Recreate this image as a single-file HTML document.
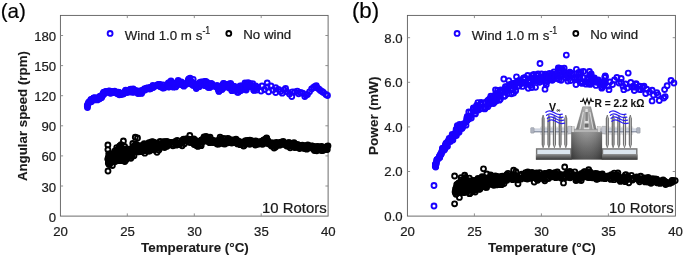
<!DOCTYPE html><html><head><meta charset="utf-8"><title>fig</title><style>html,body{margin:0;padding:0;background:#fff}svg{display:block}text{filter:grayscale(1);stroke:#222;stroke-width:.22px}text[font-weight=bold]{stroke-width:.1px}</style></head><body><svg width="685" height="257" viewBox="0 0 685 257" font-family="'Liberation Sans', Arial, sans-serif">
<rect width="685" height="257" fill="#fff"/>
<rect x="60.4" y="15.4" width="267.7" height="200.7" fill="none" stroke="#5c5c5c" stroke-width="0.9"/>
<path d="M127.3 216.1v-2.7M127.3 15.4v2.7M194.3 216.1v-2.7M194.3 15.4v2.7M261.2 216.1v-2.7M261.2 15.4v2.7M60.4 186.0h2.7M328.1 186.0h-2.7M60.4 155.9h2.7M328.1 155.9h-2.7M60.4 125.8h2.7M328.1 125.8h-2.7M60.4 95.7h2.7M328.1 95.7h-2.7M60.4 65.6h2.7M328.1 65.6h-2.7M60.4 35.5h2.7M328.1 35.5h-2.7" stroke="#858585" stroke-width="0.9" fill="none"/>
<g font-size="13.2" fill="#1a1a1a" text-anchor="middle">
<text x="60.6" y="235.5">20</text>
<text x="127.5" y="235.5">25</text>
<text x="194.5" y="235.5">30</text>
<text x="261.4" y="235.5">35</text>
<text x="328.3" y="235.5">40</text>
</g>
<g font-size="13.2" fill="#1a1a1a" text-anchor="end">
<text x="56.2" y="221.6">0</text>
<text x="56.2" y="191.5">30</text>
<text x="56.2" y="161.4">60</text>
<text x="56.2" y="131.3">90</text>
<text x="56.2" y="101.2">120</text>
<text x="56.2" y="71.1">150</text>
<text x="56.2" y="41.0">180</text>
</g>
<g fill="none" stroke="#1a00ff" stroke-width="1.9"><circle cx="87.3" cy="105.1" r="2.45"/><circle cx="87.3" cy="106.3" r="2.45"/><circle cx="87.5" cy="107.5" r="2.45"/><circle cx="88.1" cy="104.3" r="2.45"/><circle cx="88.3" cy="103.1" r="2.45"/><circle cx="88.8" cy="102.1" r="2.45"/><circle cx="89.6" cy="101.9" r="2.45"/><circle cx="89.8" cy="101.6" r="2.45"/><circle cx="90.7" cy="99.8" r="2.45"/><circle cx="91.1" cy="100.7" r="2.45"/><circle cx="91.2" cy="99.5" r="2.45"/><circle cx="91.2" cy="101.5" r="2.45"/><circle cx="91.3" cy="101.4" r="2.45"/><circle cx="91.5" cy="101.3" r="2.45"/><circle cx="92.3" cy="99.4" r="2.45"/><circle cx="92.5" cy="100.1" r="2.45"/><circle cx="92.9" cy="99.3" r="2.45"/><circle cx="92.9" cy="99.1" r="2.45"/><circle cx="93.2" cy="99.0" r="2.45"/><circle cx="93.6" cy="98.1" r="2.45"/><circle cx="93.8" cy="97.9" r="2.45"/><circle cx="94.0" cy="99.7" r="2.45"/><circle cx="94.3" cy="98.8" r="2.45"/><circle cx="94.6" cy="99.1" r="2.45"/><circle cx="95.2" cy="99.8" r="2.45"/><circle cx="95.2" cy="97.6" r="2.45"/><circle cx="95.3" cy="98.4" r="2.45"/><circle cx="95.8" cy="99.2" r="2.45"/><circle cx="96.8" cy="99.4" r="2.45"/><circle cx="97.1" cy="98.8" r="2.45"/><circle cx="97.3" cy="99.9" r="2.45"/><circle cx="97.5" cy="99.2" r="2.45"/><circle cx="97.9" cy="98.0" r="2.45"/><circle cx="99.0" cy="97.8" r="2.45"/><circle cx="99.1" cy="98.9" r="2.45"/><circle cx="99.7" cy="98.2" r="2.45"/><circle cx="99.7" cy="96.5" r="2.45"/><circle cx="100.5" cy="98.1" r="2.45"/><circle cx="100.7" cy="97.3" r="2.45"/><circle cx="100.8" cy="97.8" r="2.45"/><circle cx="100.8" cy="96.5" r="2.45"/><circle cx="100.9" cy="96.4" r="2.45"/><circle cx="101.0" cy="95.8" r="2.45"/><circle cx="101.7" cy="97.6" r="2.45"/><circle cx="102.0" cy="95.3" r="2.45"/><circle cx="102.4" cy="96.1" r="2.45"/><circle cx="103.0" cy="93.8" r="2.45"/><circle cx="103.2" cy="94.2" r="2.45"/><circle cx="103.4" cy="92.7" r="2.45"/><circle cx="103.6" cy="93.4" r="2.45"/><circle cx="103.8" cy="94.1" r="2.45"/><circle cx="103.9" cy="92.4" r="2.45"/><circle cx="104.0" cy="94.0" r="2.45"/><circle cx="104.2" cy="93.2" r="2.45"/><circle cx="104.3" cy="92.2" r="2.45"/><circle cx="104.9" cy="92.1" r="2.45"/><circle cx="105.2" cy="92.0" r="2.45"/><circle cx="105.3" cy="92.2" r="2.45"/><circle cx="105.7" cy="91.7" r="2.45"/><circle cx="107.0" cy="91.3" r="2.45"/><circle cx="107.9" cy="91.7" r="2.45"/><circle cx="108.4" cy="91.3" r="2.45"/><circle cx="108.5" cy="91.1" r="2.45"/><circle cx="109.0" cy="92.1" r="2.45"/><circle cx="109.2" cy="92.8" r="2.45"/><circle cx="109.4" cy="91.0" r="2.45"/><circle cx="109.8" cy="92.2" r="2.45"/><circle cx="109.8" cy="91.7" r="2.45"/><circle cx="110.5" cy="91.4" r="2.45"/><circle cx="110.6" cy="92.8" r="2.45"/><circle cx="110.6" cy="91.8" r="2.45"/><circle cx="110.7" cy="93.3" r="2.45"/><circle cx="111.2" cy="91.5" r="2.45"/><circle cx="111.4" cy="92.4" r="2.45"/><circle cx="111.7" cy="91.8" r="2.45"/><circle cx="112.5" cy="91.4" r="2.45"/><circle cx="113.1" cy="92.4" r="2.45"/><circle cx="113.4" cy="91.8" r="2.45"/><circle cx="113.6" cy="92.4" r="2.45"/><circle cx="113.8" cy="91.9" r="2.45"/><circle cx="114.7" cy="91.2" r="2.45"/><circle cx="116.0" cy="92.3" r="2.45"/><circle cx="116.9" cy="92.8" r="2.45"/><circle cx="117.0" cy="93.6" r="2.45"/><circle cx="117.6" cy="92.5" r="2.45"/><circle cx="117.8" cy="93.3" r="2.45"/><circle cx="118.3" cy="92.2" r="2.45"/><circle cx="118.3" cy="94.1" r="2.45"/><circle cx="118.6" cy="92.8" r="2.45"/><circle cx="118.7" cy="92.3" r="2.45"/><circle cx="118.8" cy="93.7" r="2.45"/><circle cx="119.4" cy="94.8" r="2.45"/><circle cx="119.6" cy="92.8" r="2.45"/><circle cx="119.7" cy="93.1" r="2.45"/><circle cx="120.7" cy="93.6" r="2.45"/><circle cx="121.3" cy="93.3" r="2.45"/><circle cx="121.3" cy="94.5" r="2.45"/><circle cx="122.1" cy="93.4" r="2.45"/><circle cx="122.9" cy="93.1" r="2.45"/><circle cx="123.2" cy="94.0" r="2.45"/><circle cx="123.7" cy="92.6" r="2.45"/><circle cx="123.9" cy="93.5" r="2.45"/><circle cx="125.1" cy="91.3" r="2.45"/><circle cx="125.7" cy="90.7" r="2.45"/><circle cx="125.7" cy="90.1" r="2.45"/><circle cx="127.2" cy="92.5" r="2.45"/><circle cx="127.9" cy="90.5" r="2.45"/><circle cx="127.9" cy="91.0" r="2.45"/><circle cx="128.6" cy="90.6" r="2.45"/><circle cx="130.2" cy="90.5" r="2.45"/><circle cx="130.2" cy="90.4" r="2.45"/><circle cx="130.3" cy="92.0" r="2.45"/><circle cx="130.3" cy="89.5" r="2.45"/><circle cx="130.8" cy="89.2" r="2.45"/><circle cx="131.7" cy="89.8" r="2.45"/><circle cx="131.7" cy="89.5" r="2.45"/><circle cx="131.8" cy="91.3" r="2.45"/><circle cx="132.0" cy="91.4" r="2.45"/><circle cx="132.1" cy="90.0" r="2.45"/><circle cx="132.6" cy="89.8" r="2.45"/><circle cx="132.8" cy="90.8" r="2.45"/><circle cx="132.9" cy="92.3" r="2.45"/><circle cx="133.2" cy="88.8" r="2.45"/><circle cx="133.3" cy="91.6" r="2.45"/><circle cx="133.6" cy="90.3" r="2.45"/><circle cx="133.7" cy="92.1" r="2.45"/><circle cx="133.9" cy="90.3" r="2.45"/><circle cx="135.3" cy="91.4" r="2.45"/><circle cx="135.8" cy="90.5" r="2.45"/><circle cx="137.3" cy="91.4" r="2.45"/><circle cx="137.9" cy="93.6" r="2.45"/><circle cx="139.4" cy="93.3" r="2.45"/><circle cx="139.5" cy="92.2" r="2.45"/><circle cx="139.9" cy="91.7" r="2.45"/><circle cx="139.9" cy="90.8" r="2.45"/><circle cx="140.0" cy="92.1" r="2.45"/><circle cx="140.5" cy="92.3" r="2.45"/><circle cx="140.5" cy="92.2" r="2.45"/><circle cx="140.6" cy="92.2" r="2.45"/><circle cx="140.6" cy="91.3" r="2.45"/><circle cx="141.0" cy="92.0" r="2.45"/><circle cx="141.0" cy="92.0" r="2.45"/><circle cx="141.5" cy="92.9" r="2.45"/><circle cx="141.5" cy="93.4" r="2.45"/><circle cx="141.6" cy="91.6" r="2.45"/><circle cx="141.8" cy="91.0" r="2.45"/><circle cx="142.5" cy="91.1" r="2.45"/><circle cx="142.6" cy="90.5" r="2.45"/><circle cx="143.3" cy="89.9" r="2.45"/><circle cx="144.0" cy="90.0" r="2.45"/><circle cx="144.7" cy="88.7" r="2.45"/><circle cx="145.0" cy="90.0" r="2.45"/><circle cx="145.0" cy="89.4" r="2.45"/><circle cx="145.3" cy="89.5" r="2.45"/><circle cx="146.7" cy="88.7" r="2.45"/><circle cx="146.8" cy="88.2" r="2.45"/><circle cx="147.3" cy="88.0" r="2.45"/><circle cx="148.6" cy="88.6" r="2.45"/><circle cx="149.6" cy="88.3" r="2.45"/><circle cx="149.7" cy="89.0" r="2.45"/><circle cx="149.9" cy="88.7" r="2.45"/><circle cx="150.2" cy="87.5" r="2.45"/><circle cx="150.5" cy="88.7" r="2.45"/><circle cx="150.5" cy="87.4" r="2.45"/><circle cx="152.4" cy="87.2" r="2.45"/><circle cx="152.4" cy="87.5" r="2.45"/><circle cx="152.9" cy="85.4" r="2.45"/><circle cx="153.2" cy="87.4" r="2.45"/><circle cx="154.8" cy="86.3" r="2.45"/><circle cx="157.3" cy="85.0" r="2.45"/><circle cx="158.2" cy="84.8" r="2.45"/><circle cx="158.3" cy="84.9" r="2.45"/><circle cx="158.8" cy="84.3" r="2.45"/><circle cx="159.1" cy="85.3" r="2.45"/><circle cx="159.3" cy="85.0" r="2.45"/><circle cx="159.3" cy="85.9" r="2.45"/><circle cx="159.9" cy="84.5" r="2.45"/><circle cx="160.5" cy="86.7" r="2.45"/><circle cx="161.2" cy="87.0" r="2.45"/><circle cx="161.6" cy="86.7" r="2.45"/><circle cx="162.0" cy="86.5" r="2.45"/><circle cx="162.9" cy="88.0" r="2.45"/><circle cx="163.1" cy="84.9" r="2.45"/><circle cx="163.7" cy="87.9" r="2.45"/><circle cx="164.0" cy="87.5" r="2.45"/><circle cx="165.3" cy="87.1" r="2.45"/><circle cx="166.4" cy="86.7" r="2.45"/><circle cx="167.5" cy="84.5" r="2.45"/><circle cx="167.7" cy="85.1" r="2.45"/><circle cx="167.7" cy="86.5" r="2.45"/><circle cx="168.2" cy="86.0" r="2.45"/><circle cx="168.3" cy="85.6" r="2.45"/><circle cx="168.4" cy="82.8" r="2.45"/><circle cx="168.6" cy="86.1" r="2.45"/><circle cx="168.8" cy="87.1" r="2.45"/><circle cx="169.0" cy="86.8" r="2.45"/><circle cx="169.1" cy="85.5" r="2.45"/><circle cx="169.9" cy="82.5" r="2.45"/><circle cx="170.0" cy="86.7" r="2.45"/><circle cx="170.9" cy="84.9" r="2.45"/><circle cx="171.0" cy="80.9" r="2.45"/><circle cx="171.1" cy="85.8" r="2.45"/><circle cx="171.5" cy="82.7" r="2.45"/><circle cx="173.3" cy="82.8" r="2.45"/><circle cx="173.4" cy="83.9" r="2.45"/><circle cx="173.4" cy="87.2" r="2.45"/><circle cx="174.5" cy="83.9" r="2.45"/><circle cx="174.6" cy="85.0" r="2.45"/><circle cx="175.6" cy="86.9" r="2.45"/><circle cx="175.8" cy="86.5" r="2.45"/><circle cx="176.1" cy="83.5" r="2.45"/><circle cx="176.8" cy="82.8" r="2.45"/><circle cx="178.2" cy="80.5" r="2.45"/><circle cx="178.2" cy="81.5" r="2.45"/><circle cx="178.5" cy="83.4" r="2.45"/><circle cx="179.7" cy="83.4" r="2.45"/><circle cx="179.9" cy="82.9" r="2.45"/><circle cx="180.1" cy="84.5" r="2.45"/><circle cx="181.3" cy="82.0" r="2.45"/><circle cx="181.6" cy="83.4" r="2.45"/><circle cx="182.4" cy="85.1" r="2.45"/><circle cx="183.2" cy="85.2" r="2.45"/><circle cx="183.9" cy="86.2" r="2.45"/><circle cx="185.8" cy="84.5" r="2.45"/><circle cx="186.7" cy="82.8" r="2.45"/><circle cx="187.2" cy="83.6" r="2.45"/><circle cx="188.1" cy="80.7" r="2.45"/><circle cx="188.5" cy="79.4" r="2.45"/><circle cx="188.6" cy="83.2" r="2.45"/><circle cx="188.9" cy="81.9" r="2.45"/><circle cx="189.0" cy="82.5" r="2.45"/><circle cx="189.0" cy="79.0" r="2.45"/><circle cx="189.3" cy="81.3" r="2.45"/><circle cx="189.6" cy="80.9" r="2.45"/><circle cx="189.7" cy="80.4" r="2.45"/><circle cx="190.1" cy="78.1" r="2.45"/><circle cx="191.4" cy="82.0" r="2.45"/><circle cx="191.5" cy="84.2" r="2.45"/><circle cx="191.8" cy="83.5" r="2.45"/><circle cx="191.9" cy="82.0" r="2.45"/><circle cx="192.3" cy="83.3" r="2.45"/><circle cx="193.1" cy="85.4" r="2.45"/><circle cx="193.2" cy="79.3" r="2.45"/><circle cx="193.8" cy="84.4" r="2.45"/><circle cx="195.4" cy="86.5" r="2.45"/><circle cx="195.9" cy="86.8" r="2.45"/><circle cx="196.3" cy="88.5" r="2.45"/><circle cx="196.8" cy="87.3" r="2.45"/><circle cx="196.9" cy="85.9" r="2.45"/><circle cx="197.0" cy="85.8" r="2.45"/><circle cx="197.1" cy="86.6" r="2.45"/><circle cx="197.6" cy="83.9" r="2.45"/><circle cx="197.9" cy="84.6" r="2.45"/><circle cx="199.3" cy="84.9" r="2.45"/><circle cx="199.3" cy="86.7" r="2.45"/><circle cx="199.9" cy="82.5" r="2.45"/><circle cx="201.2" cy="81.8" r="2.45"/><circle cx="202.0" cy="82.1" r="2.45"/><circle cx="202.2" cy="84.1" r="2.45"/><circle cx="203.6" cy="82.2" r="2.45"/><circle cx="204.5" cy="85.6" r="2.45"/><circle cx="204.7" cy="81.5" r="2.45"/><circle cx="204.8" cy="82.9" r="2.45"/><circle cx="204.8" cy="82.9" r="2.45"/><circle cx="205.0" cy="84.7" r="2.45"/><circle cx="205.3" cy="85.5" r="2.45"/><circle cx="205.8" cy="81.5" r="2.45"/><circle cx="206.3" cy="82.9" r="2.45"/><circle cx="206.6" cy="85.4" r="2.45"/><circle cx="206.7" cy="83.7" r="2.45"/><circle cx="207.1" cy="82.4" r="2.45"/><circle cx="208.0" cy="87.3" r="2.45"/><circle cx="208.9" cy="86.4" r="2.45"/><circle cx="209.0" cy="86.4" r="2.45"/><circle cx="209.1" cy="84.8" r="2.45"/><circle cx="209.2" cy="87.4" r="2.45"/><circle cx="209.5" cy="85.1" r="2.45"/><circle cx="209.7" cy="87.4" r="2.45"/><circle cx="210.8" cy="83.7" r="2.45"/><circle cx="211.4" cy="83.7" r="2.45"/><circle cx="211.7" cy="85.5" r="2.45"/><circle cx="211.9" cy="83.9" r="2.45"/><circle cx="212.8" cy="86.3" r="2.45"/><circle cx="216.7" cy="87.2" r="2.45"/><circle cx="217.0" cy="85.3" r="2.45"/><circle cx="217.6" cy="87.3" r="2.45"/><circle cx="218.0" cy="86.7" r="2.45"/><circle cx="218.2" cy="89.0" r="2.45"/><circle cx="218.2" cy="86.3" r="2.45"/><circle cx="218.3" cy="86.6" r="2.45"/><circle cx="218.3" cy="89.5" r="2.45"/><circle cx="218.9" cy="91.4" r="2.45"/><circle cx="219.1" cy="91.0" r="2.45"/><circle cx="219.5" cy="87.6" r="2.45"/><circle cx="221.3" cy="87.5" r="2.45"/><circle cx="222.1" cy="89.5" r="2.45"/><circle cx="222.4" cy="86.5" r="2.45"/><circle cx="222.6" cy="84.9" r="2.45"/><circle cx="222.8" cy="86.8" r="2.45"/><circle cx="222.8" cy="87.3" r="2.45"/><circle cx="223.4" cy="84.8" r="2.45"/><circle cx="223.5" cy="83.4" r="2.45"/><circle cx="223.7" cy="83.7" r="2.45"/><circle cx="223.9" cy="87.3" r="2.45"/><circle cx="224.3" cy="84.7" r="2.45"/><circle cx="224.4" cy="85.8" r="2.45"/><circle cx="224.6" cy="86.4" r="2.45"/><circle cx="224.8" cy="87.1" r="2.45"/><circle cx="225.1" cy="85.3" r="2.45"/><circle cx="226.2" cy="86.8" r="2.45"/><circle cx="226.3" cy="84.3" r="2.45"/><circle cx="228.3" cy="85.4" r="2.45"/><circle cx="228.6" cy="84.2" r="2.45"/><circle cx="229.2" cy="88.1" r="2.45"/><circle cx="229.2" cy="86.0" r="2.45"/><circle cx="229.5" cy="84.8" r="2.45"/><circle cx="229.8" cy="85.5" r="2.45"/><circle cx="229.9" cy="85.7" r="2.45"/><circle cx="230.1" cy="87.3" r="2.45"/><circle cx="230.5" cy="83.3" r="2.45"/><circle cx="231.1" cy="84.3" r="2.45"/><circle cx="231.3" cy="85.5" r="2.45"/><circle cx="231.8" cy="90.7" r="2.45"/><circle cx="231.8" cy="88.0" r="2.45"/><circle cx="233.0" cy="86.4" r="2.45"/><circle cx="233.2" cy="87.9" r="2.45"/><circle cx="233.3" cy="90.3" r="2.45"/><circle cx="234.0" cy="86.5" r="2.45"/><circle cx="234.0" cy="86.3" r="2.45"/><circle cx="234.3" cy="89.3" r="2.45"/><circle cx="235.4" cy="88.6" r="2.45"/><circle cx="235.8" cy="89.2" r="2.45"/><circle cx="236.0" cy="87.2" r="2.45"/><circle cx="237.4" cy="92.3" r="2.45"/><circle cx="238.3" cy="92.3" r="2.45"/><circle cx="238.7" cy="90.3" r="2.45"/><circle cx="239.3" cy="90.6" r="2.45"/><circle cx="240.1" cy="85.8" r="2.45"/><circle cx="240.2" cy="90.5" r="2.45"/><circle cx="240.6" cy="88.9" r="2.45"/><circle cx="240.8" cy="90.0" r="2.45"/><circle cx="240.9" cy="90.4" r="2.45"/><circle cx="241.5" cy="88.3" r="2.45"/><circle cx="241.7" cy="85.8" r="2.45"/><circle cx="241.7" cy="89.5" r="2.45"/><circle cx="242.4" cy="87.1" r="2.45"/><circle cx="243.0" cy="87.5" r="2.45"/><circle cx="243.5" cy="86.7" r="2.45"/><circle cx="243.5" cy="87.1" r="2.45"/><circle cx="245.0" cy="82.8" r="2.45"/><circle cx="245.4" cy="89.0" r="2.45"/><circle cx="246.0" cy="87.0" r="2.45"/><circle cx="246.1" cy="88.5" r="2.45"/><circle cx="246.2" cy="90.0" r="2.45"/><circle cx="246.3" cy="86.5" r="2.45"/><circle cx="246.3" cy="83.3" r="2.45"/><circle cx="246.4" cy="84.9" r="2.45"/><circle cx="246.9" cy="84.2" r="2.45"/><circle cx="247.0" cy="85.5" r="2.45"/><circle cx="247.3" cy="86.4" r="2.45"/><circle cx="248.1" cy="82.6" r="2.45"/><circle cx="248.9" cy="86.8" r="2.45"/><circle cx="249.6" cy="83.5" r="2.45"/><circle cx="249.7" cy="86.7" r="2.45"/><circle cx="250.1" cy="86.0" r="2.45"/><circle cx="250.5" cy="85.7" r="2.45"/><circle cx="251.0" cy="86.2" r="2.45"/><circle cx="251.4" cy="85.4" r="2.45"/><circle cx="251.6" cy="85.3" r="2.45"/><circle cx="252.7" cy="83.6" r="2.45"/><circle cx="252.9" cy="86.6" r="2.45"/><circle cx="253.7" cy="90.1" r="2.45"/><circle cx="254.1" cy="90.4" r="2.45"/><circle cx="254.4" cy="89.3" r="2.45"/><circle cx="255.5" cy="88.5" r="2.45"/><circle cx="255.7" cy="86.0" r="2.45"/><circle cx="256.7" cy="90.1" r="2.45"/><circle cx="257.5" cy="87.6" r="2.45"/><circle cx="257.8" cy="87.6" r="2.45"/><circle cx="258.0" cy="87.3" r="2.45"/><circle cx="262.0" cy="86.0" r="2.45"/><circle cx="264.5" cy="89.5" r="2.45"/><circle cx="267.2" cy="82.9" r="2.45"/><circle cx="267.2" cy="87.0" r="2.45"/><circle cx="261.1" cy="91.1" r="2.45"/><circle cx="268.6" cy="91.8" r="2.45"/><circle cx="271.0" cy="86.0" r="2.45"/><circle cx="273.0" cy="90.0" r="2.45"/><circle cx="275.7" cy="87.7" r="2.45"/><circle cx="275.7" cy="92.5" r="2.45"/><circle cx="278.5" cy="89.5" r="2.45"/><circle cx="280.5" cy="91.5" r="2.45"/><circle cx="282.2" cy="93.2" r="2.45"/><circle cx="284.0" cy="90.0" r="2.45"/><circle cx="285.6" cy="88.4" r="2.45"/><circle cx="287.0" cy="91.8" r="2.45"/><circle cx="289.5" cy="94.0" r="2.45"/><circle cx="291.8" cy="96.6" r="2.45"/><circle cx="292.5" cy="91.8" r="2.45"/><circle cx="295.0" cy="92.0" r="2.45"/><circle cx="297.3" cy="91.1" r="2.45"/><circle cx="298.6" cy="93.8" r="2.45"/><circle cx="300.5" cy="92.5" r="2.45"/><circle cx="302.7" cy="93.2" r="2.45"/><circle cx="304.8" cy="96.6" r="2.45"/><circle cx="306.0" cy="95.0" r="2.45"/><circle cx="307.5" cy="94.5" r="2.45"/><circle cx="309.5" cy="91.8" r="2.45"/><circle cx="311.6" cy="89.0" r="2.45"/><circle cx="313.5" cy="87.5" r="2.45"/><circle cx="315.0" cy="86.5" r="2.45"/><circle cx="316.3" cy="85.7" r="2.45"/><circle cx="317.0" cy="87.7" r="2.45"/><circle cx="318.8" cy="89.0" r="2.45"/><circle cx="320.4" cy="90.4" r="2.45"/><circle cx="322.0" cy="91.5" r="2.45"/><circle cx="323.4" cy="92.5" r="2.45"/><circle cx="325.9" cy="94.5" r="2.45"/><circle cx="327.5" cy="95.5" r="2.45"/></g>
<g fill="none" stroke="#000" stroke-width="1.9"><circle cx="139.6" cy="147.7" r="2.45"/><circle cx="127.8" cy="156.4" r="2.45"/><circle cx="112.5" cy="159.3" r="2.45"/><circle cx="153.3" cy="146.5" r="2.45"/><circle cx="138.8" cy="149.8" r="2.45"/><circle cx="112.4" cy="157.0" r="2.45"/><circle cx="149.7" cy="145.4" r="2.45"/><circle cx="111.4" cy="155.0" r="2.45"/><circle cx="111.0" cy="158.4" r="2.45"/><circle cx="121.1" cy="144.7" r="2.45"/><circle cx="151.4" cy="145.4" r="2.45"/><circle cx="108.8" cy="158.1" r="2.45"/><circle cx="150.4" cy="146.2" r="2.45"/><circle cx="134.5" cy="149.9" r="2.45"/><circle cx="110.0" cy="156.5" r="2.45"/><circle cx="132.4" cy="148.7" r="2.45"/><circle cx="127.0" cy="148.9" r="2.45"/><circle cx="132.2" cy="152.8" r="2.45"/><circle cx="140.9" cy="151.5" r="2.45"/><circle cx="137.9" cy="150.4" r="2.45"/><circle cx="154.6" cy="145.7" r="2.45"/><circle cx="113.5" cy="161.9" r="2.45"/><circle cx="144.8" cy="144.9" r="2.45"/><circle cx="124.8" cy="161.5" r="2.45"/><circle cx="143.3" cy="145.6" r="2.45"/><circle cx="149.0" cy="142.6" r="2.45"/><circle cx="154.3" cy="150.1" r="2.45"/><circle cx="118.1" cy="159.1" r="2.45"/><circle cx="126.8" cy="150.5" r="2.45"/><circle cx="151.7" cy="146.0" r="2.45"/><circle cx="151.9" cy="145.3" r="2.45"/><circle cx="123.0" cy="153.2" r="2.45"/><circle cx="151.6" cy="142.9" r="2.45"/><circle cx="124.5" cy="149.2" r="2.45"/><circle cx="123.1" cy="154.5" r="2.45"/><circle cx="141.9" cy="148.3" r="2.45"/><circle cx="127.6" cy="157.6" r="2.45"/><circle cx="126.5" cy="154.0" r="2.45"/><circle cx="123.6" cy="159.9" r="2.45"/><circle cx="125.8" cy="151.2" r="2.45"/><circle cx="112.8" cy="158.9" r="2.45"/><circle cx="109.8" cy="155.5" r="2.45"/><circle cx="141.8" cy="145.3" r="2.45"/><circle cx="132.2" cy="156.5" r="2.45"/><circle cx="137.6" cy="146.7" r="2.45"/><circle cx="144.3" cy="148.9" r="2.45"/><circle cx="116.6" cy="153.8" r="2.45"/><circle cx="116.7" cy="147.6" r="2.45"/><circle cx="118.7" cy="152.1" r="2.45"/><circle cx="119.8" cy="151.4" r="2.45"/><circle cx="142.1" cy="146.8" r="2.45"/><circle cx="123.0" cy="157.2" r="2.45"/><circle cx="120.7" cy="155.4" r="2.45"/><circle cx="135.8" cy="147.4" r="2.45"/><circle cx="114.7" cy="151.1" r="2.45"/><circle cx="111.5" cy="160.0" r="2.45"/><circle cx="138.9" cy="148.3" r="2.45"/><circle cx="141.9" cy="151.4" r="2.45"/><circle cx="119.5" cy="160.7" r="2.45"/><circle cx="135.8" cy="150.4" r="2.45"/><circle cx="108.9" cy="159.9" r="2.45"/><circle cx="124.5" cy="152.4" r="2.45"/><circle cx="132.9" cy="146.7" r="2.45"/><circle cx="117.6" cy="150.2" r="2.45"/><circle cx="121.8" cy="149.5" r="2.45"/><circle cx="134.4" cy="147.5" r="2.45"/><circle cx="133.4" cy="148.7" r="2.45"/><circle cx="113.4" cy="159.8" r="2.45"/><circle cx="139.3" cy="147.6" r="2.45"/><circle cx="110.5" cy="159.2" r="2.45"/><circle cx="153.1" cy="142.1" r="2.45"/><circle cx="115.4" cy="160.9" r="2.45"/><circle cx="117.6" cy="155.4" r="2.45"/><circle cx="115.3" cy="161.4" r="2.45"/><circle cx="154.3" cy="147.7" r="2.45"/><circle cx="119.0" cy="158.6" r="2.45"/><circle cx="134.2" cy="148.6" r="2.45"/><circle cx="154.3" cy="147.5" r="2.45"/><circle cx="152.1" cy="149.6" r="2.45"/><circle cx="109.2" cy="157.4" r="2.45"/><circle cx="130.1" cy="156.3" r="2.45"/><circle cx="134.0" cy="155.7" r="2.45"/><circle cx="139.1" cy="149.4" r="2.45"/><circle cx="121.3" cy="155.7" r="2.45"/><circle cx="120.9" cy="160.7" r="2.45"/><circle cx="108.0" cy="159.1" r="2.45"/><circle cx="108.9" cy="160.8" r="2.45"/><circle cx="131.5" cy="149.4" r="2.45"/><circle cx="110.3" cy="158.1" r="2.45"/><circle cx="115.4" cy="153.2" r="2.45"/><circle cx="121.2" cy="152.6" r="2.45"/><circle cx="110.1" cy="160.1" r="2.45"/><circle cx="108.8" cy="160.9" r="2.45"/><circle cx="150.8" cy="143.0" r="2.45"/><circle cx="125.9" cy="160.1" r="2.45"/><circle cx="115.5" cy="159.2" r="2.45"/><circle cx="139.4" cy="150.0" r="2.45"/><circle cx="108.1" cy="159.6" r="2.45"/><circle cx="117.2" cy="153.3" r="2.45"/><circle cx="152.7" cy="146.8" r="2.45"/><circle cx="149.3" cy="147.2" r="2.45"/><circle cx="135.8" cy="145.0" r="2.45"/><circle cx="111.0" cy="161.4" r="2.45"/><circle cx="120.5" cy="160.5" r="2.45"/><circle cx="108.7" cy="153.8" r="2.45"/><circle cx="116.1" cy="158.2" r="2.45"/><circle cx="108.6" cy="161.3" r="2.45"/><circle cx="112.2" cy="158.2" r="2.45"/><circle cx="135.6" cy="151.6" r="2.45"/><circle cx="111.3" cy="154.2" r="2.45"/><circle cx="113.4" cy="158.0" r="2.45"/><circle cx="149.6" cy="151.1" r="2.45"/><circle cx="121.3" cy="152.4" r="2.45"/><circle cx="121.1" cy="150.5" r="2.45"/><circle cx="110.7" cy="159.9" r="2.45"/><circle cx="143.9" cy="146.9" r="2.45"/><circle cx="137.8" cy="151.9" r="2.45"/><circle cx="131.3" cy="149.5" r="2.45"/><circle cx="134.8" cy="150.7" r="2.45"/><circle cx="111.2" cy="153.9" r="2.45"/><circle cx="117.9" cy="156.0" r="2.45"/><circle cx="133.1" cy="149.7" r="2.45"/><circle cx="152.2" cy="141.8" r="2.45"/><circle cx="145.1" cy="147.9" r="2.45"/><circle cx="136.0" cy="144.7" r="2.45"/><circle cx="129.9" cy="151.1" r="2.45"/><circle cx="108.3" cy="163.1" r="2.45"/><circle cx="148.9" cy="144.4" r="2.45"/><circle cx="110.0" cy="157.3" r="2.45"/><circle cx="112.4" cy="165.6" r="2.45"/><circle cx="138.6" cy="148.8" r="2.45"/><circle cx="144.8" cy="153.2" r="2.45"/><circle cx="143.5" cy="148.4" r="2.45"/><circle cx="126.7" cy="150.9" r="2.45"/><circle cx="114.3" cy="156.4" r="2.45"/><circle cx="108.9" cy="164.3" r="2.45"/><circle cx="146.9" cy="149.4" r="2.45"/><circle cx="153.6" cy="146.0" r="2.45"/><circle cx="117.2" cy="153.9" r="2.45"/><circle cx="147.6" cy="147.1" r="2.45"/><circle cx="124.4" cy="151.0" r="2.45"/><circle cx="120.2" cy="160.2" r="2.45"/><circle cx="129.3" cy="153.7" r="2.45"/><circle cx="108.1" cy="158.2" r="2.45"/><circle cx="126.3" cy="152.1" r="2.45"/><circle cx="115.3" cy="158.0" r="2.45"/><circle cx="139.6" cy="149.7" r="2.45"/><circle cx="129.2" cy="153.3" r="2.45"/><circle cx="147.8" cy="145.9" r="2.45"/><circle cx="149.2" cy="146.5" r="2.45"/><circle cx="120.4" cy="147.1" r="2.45"/><circle cx="118.8" cy="148.5" r="2.45"/><circle cx="151.5" cy="147.2" r="2.45"/><circle cx="129.2" cy="152.3" r="2.45"/><circle cx="111.1" cy="161.1" r="2.45"/><circle cx="109.3" cy="162.6" r="2.45"/><circle cx="154.2" cy="148.3" r="2.45"/><circle cx="132.9" cy="150.2" r="2.45"/><circle cx="109.6" cy="164.4" r="2.45"/><circle cx="129.6" cy="155.4" r="2.45"/><circle cx="129.2" cy="152.6" r="2.45"/><circle cx="125.9" cy="155.9" r="2.45"/><circle cx="152.1" cy="146.5" r="2.45"/><circle cx="152.0" cy="144.0" r="2.45"/><circle cx="112.2" cy="159.0" r="2.45"/><circle cx="113.3" cy="157.2" r="2.45"/><circle cx="124.6" cy="146.4" r="2.45"/><circle cx="145.9" cy="147.5" r="2.45"/><circle cx="135.1" cy="147.7" r="2.45"/><circle cx="140.5" cy="147.2" r="2.45"/><circle cx="132.8" cy="143.4" r="2.45"/><circle cx="115.7" cy="152.9" r="2.45"/><circle cx="145.1" cy="147.8" r="2.45"/><circle cx="108.3" cy="160.4" r="2.45"/><circle cx="138.9" cy="146.1" r="2.45"/><circle cx="115.0" cy="159.4" r="2.45"/><circle cx="127.6" cy="150.2" r="2.45"/><circle cx="153.4" cy="145.6" r="2.45"/><circle cx="130.9" cy="158.3" r="2.45"/><circle cx="109.7" cy="158.3" r="2.45"/><circle cx="125.6" cy="151.7" r="2.45"/><circle cx="137.0" cy="150.9" r="2.45"/><circle cx="109.6" cy="159.0" r="2.45"/><circle cx="117.5" cy="152.4" r="2.45"/><circle cx="108.4" cy="160.6" r="2.45"/><circle cx="131.0" cy="155.0" r="2.45"/><circle cx="123.4" cy="140.9" r="2.45"/><circle cx="129.2" cy="151.3" r="2.45"/><circle cx="119.5" cy="147.0" r="2.45"/><circle cx="136.8" cy="144.7" r="2.45"/><circle cx="114.1" cy="154.0" r="2.45"/><circle cx="149.8" cy="144.5" r="2.45"/><circle cx="152.6" cy="146.3" r="2.45"/><circle cx="128.7" cy="151.2" r="2.45"/><circle cx="127.4" cy="154.3" r="2.45"/><circle cx="147.3" cy="148.2" r="2.45"/><circle cx="119.2" cy="150.6" r="2.45"/><circle cx="144.3" cy="148.1" r="2.45"/><circle cx="119.1" cy="159.3" r="2.45"/><circle cx="140.0" cy="149.0" r="2.45"/><circle cx="121.2" cy="149.2" r="2.45"/><circle cx="134.1" cy="149.0" r="2.45"/><circle cx="150.8" cy="144.0" r="2.45"/><circle cx="109.6" cy="160.5" r="2.45"/><circle cx="144.5" cy="150.8" r="2.45"/><circle cx="131.1" cy="150.0" r="2.45"/><circle cx="123.3" cy="151.7" r="2.45"/><circle cx="121.9" cy="159.6" r="2.45"/><circle cx="110.1" cy="158.6" r="2.45"/><circle cx="117.8" cy="154.2" r="2.45"/><circle cx="135.1" cy="146.5" r="2.45"/><circle cx="111.1" cy="157.4" r="2.45"/><circle cx="137.4" cy="147.6" r="2.45"/><circle cx="152.7" cy="149.7" r="2.45"/><circle cx="153.7" cy="144.8" r="2.45"/><circle cx="148.8" cy="145.6" r="2.45"/><circle cx="144.5" cy="146.7" r="2.45"/><circle cx="114.4" cy="156.0" r="2.45"/><circle cx="153.2" cy="148.0" r="2.45"/><circle cx="115.4" cy="156.0" r="2.45"/><circle cx="147.8" cy="151.2" r="2.45"/><circle cx="148.2" cy="147.4" r="2.45"/><circle cx="135.0" cy="151.8" r="2.45"/><circle cx="130.1" cy="154.4" r="2.45"/><circle cx="115.3" cy="158.9" r="2.45"/><circle cx="130.0" cy="149.2" r="2.45"/><circle cx="119.2" cy="152.8" r="2.45"/><circle cx="112.2" cy="158.6" r="2.45"/><circle cx="112.3" cy="158.0" r="2.45"/><circle cx="144.2" cy="143.7" r="2.45"/><circle cx="150.6" cy="148.6" r="2.45"/><circle cx="112.9" cy="157.0" r="2.45"/><circle cx="108.2" cy="159.4" r="2.45"/><circle cx="118.0" cy="152.5" r="2.45"/><circle cx="112.6" cy="157.8" r="2.45"/><circle cx="114.8" cy="157.3" r="2.45"/><circle cx="133.1" cy="146.9" r="2.45"/><circle cx="125.3" cy="150.2" r="2.45"/><circle cx="125.6" cy="154.3" r="2.45"/><circle cx="115.5" cy="155.7" r="2.45"/><circle cx="137.2" cy="147.8" r="2.45"/><circle cx="119.2" cy="151.2" r="2.45"/><circle cx="124.2" cy="150.2" r="2.45"/><circle cx="127.3" cy="153.7" r="2.45"/><circle cx="149.7" cy="150.0" r="2.45"/><circle cx="117.3" cy="149.8" r="2.45"/><circle cx="140.0" cy="151.4" r="2.45"/><circle cx="120.1" cy="156.2" r="2.45"/><circle cx="149.1" cy="145.0" r="2.45"/><circle cx="124.0" cy="155.5" r="2.45"/><circle cx="129.3" cy="149.5" r="2.45"/><circle cx="148.2" cy="143.7" r="2.45"/><circle cx="137.6" cy="146.0" r="2.45"/><circle cx="111.0" cy="157.8" r="2.45"/><circle cx="112.7" cy="157.4" r="2.45"/><circle cx="154.3" cy="145.3" r="2.45"/><circle cx="108.7" cy="160.2" r="2.45"/><circle cx="119.7" cy="145.8" r="2.45"/><circle cx="152.6" cy="146.7" r="2.45"/><circle cx="108.3" cy="157.6" r="2.45"/><circle cx="113.7" cy="155.3" r="2.45"/><circle cx="115.8" cy="153.4" r="2.45"/><circle cx="110.7" cy="156.8" r="2.45"/><circle cx="127.7" cy="149.8" r="2.45"/><circle cx="133.6" cy="147.2" r="2.45"/><circle cx="120.5" cy="153.1" r="2.45"/><circle cx="111.6" cy="160.8" r="2.45"/><circle cx="144.7" cy="149.0" r="2.45"/><circle cx="144.4" cy="145.9" r="2.45"/><circle cx="132.1" cy="149.1" r="2.45"/><circle cx="112.7" cy="155.7" r="2.45"/><circle cx="131.1" cy="153.3" r="2.45"/><circle cx="135.4" cy="144.4" r="2.45"/><circle cx="125.6" cy="157.4" r="2.45"/><circle cx="147.5" cy="146.4" r="2.45"/><circle cx="123.8" cy="150.3" r="2.45"/><circle cx="129.6" cy="154.4" r="2.45"/><circle cx="111.8" cy="161.8" r="2.45"/><circle cx="132.1" cy="152.4" r="2.45"/><circle cx="142.4" cy="149.9" r="2.45"/><circle cx="140.8" cy="148.5" r="2.45"/><circle cx="141.8" cy="150.3" r="2.45"/><circle cx="142.4" cy="150.3" r="2.45"/><circle cx="143.1" cy="147.4" r="2.45"/><circle cx="143.9" cy="150.7" r="2.45"/><circle cx="144.0" cy="148.1" r="2.45"/><circle cx="144.9" cy="148.0" r="2.45"/><circle cx="146.3" cy="145.9" r="2.45"/><circle cx="148.7" cy="146.2" r="2.45"/><circle cx="149.4" cy="148.8" r="2.45"/><circle cx="150.0" cy="143.6" r="2.45"/><circle cx="150.1" cy="147.2" r="2.45"/><circle cx="150.1" cy="146.6" r="2.45"/><circle cx="150.7" cy="146.7" r="2.45"/><circle cx="151.4" cy="141.8" r="2.45"/><circle cx="151.4" cy="145.5" r="2.45"/><circle cx="151.8" cy="146.9" r="2.45"/><circle cx="151.9" cy="144.2" r="2.45"/><circle cx="152.2" cy="146.0" r="2.45"/><circle cx="153.1" cy="142.0" r="2.45"/><circle cx="154.5" cy="147.5" r="2.45"/><circle cx="154.5" cy="145.1" r="2.45"/><circle cx="154.8" cy="147.9" r="2.45"/><circle cx="156.2" cy="143.0" r="2.45"/><circle cx="156.4" cy="147.5" r="2.45"/><circle cx="156.4" cy="145.8" r="2.45"/><circle cx="156.6" cy="147.6" r="2.45"/><circle cx="156.8" cy="144.5" r="2.45"/><circle cx="157.0" cy="144.9" r="2.45"/><circle cx="157.0" cy="152.3" r="2.45"/><circle cx="157.0" cy="144.6" r="2.45"/><circle cx="157.2" cy="144.7" r="2.45"/><circle cx="157.6" cy="144.9" r="2.45"/><circle cx="157.9" cy="143.8" r="2.45"/><circle cx="158.0" cy="147.6" r="2.45"/><circle cx="158.9" cy="150.1" r="2.45"/><circle cx="159.3" cy="143.6" r="2.45"/><circle cx="160.1" cy="141.5" r="2.45"/><circle cx="160.4" cy="146.4" r="2.45"/><circle cx="160.6" cy="147.5" r="2.45"/><circle cx="162.8" cy="145.5" r="2.45"/><circle cx="163.0" cy="146.1" r="2.45"/><circle cx="163.0" cy="142.7" r="2.45"/><circle cx="163.7" cy="143.6" r="2.45"/><circle cx="163.8" cy="141.8" r="2.45"/><circle cx="164.1" cy="141.7" r="2.45"/><circle cx="164.4" cy="145.7" r="2.45"/><circle cx="164.5" cy="142.9" r="2.45"/><circle cx="164.6" cy="147.5" r="2.45"/><circle cx="164.7" cy="144.1" r="2.45"/><circle cx="165.8" cy="141.9" r="2.45"/><circle cx="166.4" cy="144.8" r="2.45"/><circle cx="166.7" cy="146.4" r="2.45"/><circle cx="166.7" cy="144.2" r="2.45"/><circle cx="167.0" cy="141.3" r="2.45"/><circle cx="168.3" cy="143.6" r="2.45"/><circle cx="168.5" cy="145.3" r="2.45"/><circle cx="169.8" cy="142.4" r="2.45"/><circle cx="170.9" cy="142.3" r="2.45"/><circle cx="172.9" cy="145.8" r="2.45"/><circle cx="173.6" cy="144.4" r="2.45"/><circle cx="173.7" cy="142.3" r="2.45"/><circle cx="175.5" cy="143.0" r="2.45"/><circle cx="175.5" cy="141.5" r="2.45"/><circle cx="175.8" cy="144.0" r="2.45"/><circle cx="176.1" cy="143.5" r="2.45"/><circle cx="176.2" cy="145.2" r="2.45"/><circle cx="177.0" cy="144.2" r="2.45"/><circle cx="177.2" cy="140.4" r="2.45"/><circle cx="177.6" cy="143.6" r="2.45"/><circle cx="177.7" cy="144.4" r="2.45"/><circle cx="178.4" cy="143.7" r="2.45"/><circle cx="179.4" cy="144.7" r="2.45"/><circle cx="181.5" cy="142.3" r="2.45"/><circle cx="181.9" cy="141.6" r="2.45"/><circle cx="182.2" cy="145.8" r="2.45"/><circle cx="182.9" cy="139.9" r="2.45"/><circle cx="183.6" cy="139.1" r="2.45"/><circle cx="184.5" cy="143.7" r="2.45"/><circle cx="184.7" cy="140.7" r="2.45"/><circle cx="185.1" cy="141.2" r="2.45"/><circle cx="186.1" cy="138.9" r="2.45"/><circle cx="187.0" cy="138.8" r="2.45"/><circle cx="188.7" cy="139.2" r="2.45"/><circle cx="188.9" cy="140.5" r="2.45"/><circle cx="189.7" cy="141.9" r="2.45"/><circle cx="189.8" cy="135.4" r="2.45"/><circle cx="190.2" cy="142.6" r="2.45"/><circle cx="190.5" cy="139.5" r="2.45"/><circle cx="192.3" cy="139.8" r="2.45"/><circle cx="193.4" cy="142.6" r="2.45"/><circle cx="193.6" cy="141.4" r="2.45"/><circle cx="193.9" cy="139.0" r="2.45"/><circle cx="194.1" cy="144.6" r="2.45"/><circle cx="194.7" cy="140.2" r="2.45"/><circle cx="194.9" cy="142.4" r="2.45"/><circle cx="195.0" cy="142.3" r="2.45"/><circle cx="195.5" cy="144.2" r="2.45"/><circle cx="195.6" cy="141.2" r="2.45"/><circle cx="195.7" cy="143.6" r="2.45"/><circle cx="195.8" cy="140.8" r="2.45"/><circle cx="196.4" cy="145.4" r="2.45"/><circle cx="196.4" cy="141.0" r="2.45"/><circle cx="196.5" cy="141.7" r="2.45"/><circle cx="197.3" cy="145.8" r="2.45"/><circle cx="197.5" cy="143.3" r="2.45"/><circle cx="197.8" cy="143.1" r="2.45"/><circle cx="197.9" cy="146.4" r="2.45"/><circle cx="198.3" cy="143.7" r="2.45"/><circle cx="200.0" cy="141.6" r="2.45"/><circle cx="200.4" cy="143.9" r="2.45"/><circle cx="200.7" cy="140.6" r="2.45"/><circle cx="200.9" cy="145.6" r="2.45"/><circle cx="201.1" cy="145.7" r="2.45"/><circle cx="201.6" cy="141.0" r="2.45"/><circle cx="201.8" cy="139.9" r="2.45"/><circle cx="202.0" cy="142.1" r="2.45"/><circle cx="202.0" cy="141.6" r="2.45"/><circle cx="202.3" cy="139.7" r="2.45"/><circle cx="203.5" cy="141.4" r="2.45"/><circle cx="204.0" cy="136.9" r="2.45"/><circle cx="204.1" cy="139.4" r="2.45"/><circle cx="205.1" cy="139.2" r="2.45"/><circle cx="205.4" cy="139.4" r="2.45"/><circle cx="205.8" cy="140.3" r="2.45"/><circle cx="206.1" cy="136.5" r="2.45"/><circle cx="206.9" cy="140.9" r="2.45"/><circle cx="207.2" cy="139.7" r="2.45"/><circle cx="207.9" cy="139.1" r="2.45"/><circle cx="208.0" cy="137.9" r="2.45"/><circle cx="208.5" cy="138.3" r="2.45"/><circle cx="208.5" cy="141.2" r="2.45"/><circle cx="208.7" cy="138.7" r="2.45"/><circle cx="208.9" cy="140.4" r="2.45"/><circle cx="209.0" cy="141.9" r="2.45"/><circle cx="209.2" cy="141.8" r="2.45"/><circle cx="209.7" cy="142.7" r="2.45"/><circle cx="209.8" cy="139.7" r="2.45"/><circle cx="210.1" cy="137.2" r="2.45"/><circle cx="210.4" cy="141.8" r="2.45"/><circle cx="211.8" cy="140.6" r="2.45"/><circle cx="212.7" cy="142.0" r="2.45"/><circle cx="212.7" cy="140.2" r="2.45"/><circle cx="212.8" cy="142.1" r="2.45"/><circle cx="213.0" cy="142.5" r="2.45"/><circle cx="213.3" cy="141.5" r="2.45"/><circle cx="214.2" cy="141.5" r="2.45"/><circle cx="214.3" cy="141.3" r="2.45"/><circle cx="214.8" cy="141.3" r="2.45"/><circle cx="215.5" cy="141.5" r="2.45"/><circle cx="216.2" cy="142.9" r="2.45"/><circle cx="217.0" cy="140.7" r="2.45"/><circle cx="217.1" cy="144.1" r="2.45"/><circle cx="217.2" cy="141.3" r="2.45"/><circle cx="217.4" cy="142.9" r="2.45"/><circle cx="217.5" cy="141.2" r="2.45"/><circle cx="218.1" cy="140.9" r="2.45"/><circle cx="218.5" cy="144.2" r="2.45"/><circle cx="219.7" cy="140.2" r="2.45"/><circle cx="220.1" cy="137.2" r="2.45"/><circle cx="220.9" cy="139.2" r="2.45"/><circle cx="221.8" cy="139.8" r="2.45"/><circle cx="223.2" cy="143.8" r="2.45"/><circle cx="223.2" cy="141.0" r="2.45"/><circle cx="223.4" cy="142.1" r="2.45"/><circle cx="223.8" cy="138.4" r="2.45"/><circle cx="223.8" cy="141.9" r="2.45"/><circle cx="224.5" cy="142.9" r="2.45"/><circle cx="224.9" cy="144.1" r="2.45"/><circle cx="226.8" cy="140.6" r="2.45"/><circle cx="226.9" cy="142.5" r="2.45"/><circle cx="226.9" cy="142.0" r="2.45"/><circle cx="227.3" cy="140.0" r="2.45"/><circle cx="227.4" cy="141.4" r="2.45"/><circle cx="227.7" cy="141.0" r="2.45"/><circle cx="227.7" cy="138.3" r="2.45"/><circle cx="227.8" cy="142.8" r="2.45"/><circle cx="228.2" cy="142.0" r="2.45"/><circle cx="228.5" cy="140.4" r="2.45"/><circle cx="228.9" cy="139.0" r="2.45"/><circle cx="230.2" cy="142.6" r="2.45"/><circle cx="230.6" cy="141.1" r="2.45"/><circle cx="231.7" cy="143.0" r="2.45"/><circle cx="232.2" cy="142.6" r="2.45"/><circle cx="232.8" cy="140.0" r="2.45"/><circle cx="232.9" cy="141.9" r="2.45"/><circle cx="233.2" cy="140.5" r="2.45"/><circle cx="233.4" cy="140.8" r="2.45"/><circle cx="233.8" cy="140.9" r="2.45"/><circle cx="234.1" cy="141.1" r="2.45"/><circle cx="234.2" cy="142.6" r="2.45"/><circle cx="234.4" cy="141.3" r="2.45"/><circle cx="235.2" cy="141.0" r="2.45"/><circle cx="235.5" cy="140.8" r="2.45"/><circle cx="235.9" cy="141.7" r="2.45"/><circle cx="236.0" cy="139.1" r="2.45"/><circle cx="236.1" cy="140.0" r="2.45"/><circle cx="236.1" cy="141.1" r="2.45"/><circle cx="236.4" cy="140.4" r="2.45"/><circle cx="236.7" cy="141.0" r="2.45"/><circle cx="236.9" cy="140.3" r="2.45"/><circle cx="237.5" cy="143.9" r="2.45"/><circle cx="237.6" cy="143.0" r="2.45"/><circle cx="238.5" cy="142.3" r="2.45"/><circle cx="238.6" cy="141.2" r="2.45"/><circle cx="240.1" cy="144.7" r="2.45"/><circle cx="240.6" cy="142.5" r="2.45"/><circle cx="241.2" cy="142.2" r="2.45"/><circle cx="242.4" cy="143.2" r="2.45"/><circle cx="243.2" cy="143.3" r="2.45"/><circle cx="243.6" cy="146.1" r="2.45"/><circle cx="243.6" cy="142.8" r="2.45"/><circle cx="243.8" cy="145.7" r="2.45"/><circle cx="244.7" cy="141.4" r="2.45"/><circle cx="244.9" cy="143.4" r="2.45"/><circle cx="245.6" cy="140.7" r="2.45"/><circle cx="246.2" cy="144.1" r="2.45"/><circle cx="247.5" cy="140.5" r="2.45"/><circle cx="248.7" cy="141.1" r="2.45"/><circle cx="249.4" cy="142.6" r="2.45"/><circle cx="249.8" cy="144.3" r="2.45"/><circle cx="249.9" cy="140.1" r="2.45"/><circle cx="250.7" cy="141.6" r="2.45"/><circle cx="251.5" cy="140.6" r="2.45"/><circle cx="251.7" cy="142.7" r="2.45"/><circle cx="252.8" cy="142.8" r="2.45"/><circle cx="252.8" cy="142.5" r="2.45"/><circle cx="253.6" cy="142.2" r="2.45"/><circle cx="254.1" cy="142.7" r="2.45"/><circle cx="254.6" cy="141.6" r="2.45"/><circle cx="254.9" cy="144.3" r="2.45"/><circle cx="255.3" cy="145.1" r="2.45"/><circle cx="255.7" cy="140.8" r="2.45"/><circle cx="255.8" cy="143.0" r="2.45"/><circle cx="256.3" cy="142.7" r="2.45"/><circle cx="256.4" cy="143.9" r="2.45"/><circle cx="256.7" cy="142.1" r="2.45"/><circle cx="256.9" cy="143.0" r="2.45"/><circle cx="257.4" cy="142.0" r="2.45"/><circle cx="257.6" cy="144.3" r="2.45"/><circle cx="258.4" cy="143.7" r="2.45"/><circle cx="259.7" cy="143.3" r="2.45"/><circle cx="260.2" cy="143.9" r="2.45"/><circle cx="260.6" cy="142.8" r="2.45"/><circle cx="260.7" cy="141.3" r="2.45"/><circle cx="261.5" cy="143.6" r="2.45"/><circle cx="262.0" cy="143.0" r="2.45"/><circle cx="262.0" cy="142.4" r="2.45"/><circle cx="262.6" cy="144.3" r="2.45"/><circle cx="263.0" cy="143.4" r="2.45"/><circle cx="263.5" cy="140.2" r="2.45"/><circle cx="263.8" cy="140.4" r="2.45"/><circle cx="263.9" cy="143.2" r="2.45"/><circle cx="264.0" cy="143.0" r="2.45"/><circle cx="264.3" cy="140.2" r="2.45"/><circle cx="264.9" cy="139.5" r="2.45"/><circle cx="265.4" cy="139.6" r="2.45"/><circle cx="265.5" cy="140.3" r="2.45"/><circle cx="266.6" cy="137.9" r="2.45"/><circle cx="266.7" cy="141.3" r="2.45"/><circle cx="266.8" cy="138.6" r="2.45"/><circle cx="267.6" cy="140.3" r="2.45"/><circle cx="267.8" cy="143.1" r="2.45"/><circle cx="268.2" cy="141.4" r="2.45"/><circle cx="268.4" cy="142.2" r="2.45"/><circle cx="268.4" cy="143.7" r="2.45"/><circle cx="269.5" cy="144.2" r="2.45"/><circle cx="270.8" cy="143.4" r="2.45"/><circle cx="271.0" cy="144.0" r="2.45"/><circle cx="271.3" cy="143.0" r="2.45"/><circle cx="271.4" cy="146.1" r="2.45"/><circle cx="271.4" cy="144.8" r="2.45"/><circle cx="272.4" cy="142.8" r="2.45"/><circle cx="273.0" cy="144.2" r="2.45"/><circle cx="273.3" cy="145.6" r="2.45"/><circle cx="273.4" cy="144.8" r="2.45"/><circle cx="274.1" cy="148.0" r="2.45"/><circle cx="274.4" cy="145.9" r="2.45"/><circle cx="274.7" cy="143.7" r="2.45"/><circle cx="274.8" cy="144.2" r="2.45"/><circle cx="274.9" cy="142.8" r="2.45"/><circle cx="275.4" cy="144.8" r="2.45"/><circle cx="275.4" cy="144.7" r="2.45"/><circle cx="275.6" cy="147.0" r="2.45"/><circle cx="275.8" cy="144.7" r="2.45"/><circle cx="276.7" cy="142.3" r="2.45"/><circle cx="277.0" cy="144.0" r="2.45"/><circle cx="277.1" cy="145.0" r="2.45"/><circle cx="277.7" cy="143.4" r="2.45"/><circle cx="278.1" cy="143.8" r="2.45"/><circle cx="278.7" cy="144.3" r="2.45"/><circle cx="278.7" cy="145.2" r="2.45"/><circle cx="279.5" cy="144.3" r="2.45"/><circle cx="280.1" cy="143.2" r="2.45"/><circle cx="280.3" cy="145.1" r="2.45"/><circle cx="280.4" cy="143.0" r="2.45"/><circle cx="280.6" cy="143.4" r="2.45"/><circle cx="280.7" cy="142.3" r="2.45"/><circle cx="281.3" cy="142.1" r="2.45"/><circle cx="282.7" cy="144.1" r="2.45"/><circle cx="283.2" cy="141.4" r="2.45"/><circle cx="283.8" cy="143.3" r="2.45"/><circle cx="284.9" cy="144.6" r="2.45"/><circle cx="285.3" cy="143.5" r="2.45"/><circle cx="285.9" cy="144.5" r="2.45"/><circle cx="286.5" cy="143.1" r="2.45"/><circle cx="286.7" cy="146.0" r="2.45"/><circle cx="288.1" cy="146.0" r="2.45"/><circle cx="288.2" cy="145.0" r="2.45"/><circle cx="288.9" cy="142.6" r="2.45"/><circle cx="288.9" cy="142.6" r="2.45"/><circle cx="289.8" cy="145.6" r="2.45"/><circle cx="290.2" cy="147.8" r="2.45"/><circle cx="290.2" cy="144.8" r="2.45"/><circle cx="290.7" cy="145.9" r="2.45"/><circle cx="290.8" cy="143.3" r="2.45"/><circle cx="292.3" cy="144.4" r="2.45"/><circle cx="293.4" cy="145.3" r="2.45"/><circle cx="293.9" cy="146.0" r="2.45"/><circle cx="294.0" cy="142.7" r="2.45"/><circle cx="294.3" cy="146.9" r="2.45"/><circle cx="294.7" cy="147.5" r="2.45"/><circle cx="294.8" cy="143.9" r="2.45"/><circle cx="294.9" cy="144.6" r="2.45"/><circle cx="296.2" cy="147.1" r="2.45"/><circle cx="296.3" cy="145.4" r="2.45"/><circle cx="297.5" cy="144.4" r="2.45"/><circle cx="298.1" cy="147.5" r="2.45"/><circle cx="298.4" cy="146.7" r="2.45"/><circle cx="299.5" cy="145.4" r="2.45"/><circle cx="299.6" cy="148.6" r="2.45"/><circle cx="300.3" cy="146.3" r="2.45"/><circle cx="300.6" cy="145.3" r="2.45"/><circle cx="301.3" cy="146.3" r="2.45"/><circle cx="302.4" cy="145.2" r="2.45"/><circle cx="302.9" cy="145.7" r="2.45"/><circle cx="303.6" cy="147.1" r="2.45"/><circle cx="303.7" cy="146.1" r="2.45"/><circle cx="303.8" cy="146.2" r="2.45"/><circle cx="304.1" cy="148.5" r="2.45"/><circle cx="304.3" cy="147.7" r="2.45"/><circle cx="304.4" cy="147.6" r="2.45"/><circle cx="305.0" cy="147.3" r="2.45"/><circle cx="305.6" cy="147.2" r="2.45"/><circle cx="306.7" cy="149.2" r="2.45"/><circle cx="306.8" cy="146.5" r="2.45"/><circle cx="307.1" cy="148.5" r="2.45"/><circle cx="307.2" cy="145.4" r="2.45"/><circle cx="307.5" cy="146.2" r="2.45"/><circle cx="307.8" cy="144.9" r="2.45"/><circle cx="308.1" cy="146.0" r="2.45"/><circle cx="308.2" cy="147.3" r="2.45"/><circle cx="308.4" cy="148.0" r="2.45"/><circle cx="308.9" cy="145.7" r="2.45"/><circle cx="309.4" cy="146.6" r="2.45"/><circle cx="309.8" cy="146.3" r="2.45"/><circle cx="311.6" cy="146.9" r="2.45"/><circle cx="312.1" cy="145.8" r="2.45"/><circle cx="312.2" cy="148.1" r="2.45"/><circle cx="312.3" cy="146.2" r="2.45"/><circle cx="312.6" cy="148.3" r="2.45"/><circle cx="313.0" cy="148.4" r="2.45"/><circle cx="313.4" cy="147.3" r="2.45"/><circle cx="313.8" cy="146.7" r="2.45"/><circle cx="314.3" cy="147.1" r="2.45"/><circle cx="314.4" cy="150.6" r="2.45"/><circle cx="315.3" cy="147.1" r="2.45"/><circle cx="316.0" cy="149.8" r="2.45"/><circle cx="316.2" cy="148.7" r="2.45"/><circle cx="316.2" cy="147.7" r="2.45"/><circle cx="316.4" cy="146.7" r="2.45"/><circle cx="316.7" cy="149.7" r="2.45"/><circle cx="316.8" cy="150.8" r="2.45"/><circle cx="317.8" cy="146.5" r="2.45"/><circle cx="318.3" cy="147.1" r="2.45"/><circle cx="318.3" cy="149.3" r="2.45"/><circle cx="318.8" cy="147.8" r="2.45"/><circle cx="319.0" cy="149.5" r="2.45"/><circle cx="320.6" cy="147.4" r="2.45"/><circle cx="320.7" cy="148.6" r="2.45"/><circle cx="321.1" cy="146.9" r="2.45"/><circle cx="321.3" cy="150.5" r="2.45"/><circle cx="321.6" cy="147.2" r="2.45"/><circle cx="321.6" cy="146.3" r="2.45"/><circle cx="321.7" cy="148.4" r="2.45"/><circle cx="322.1" cy="148.5" r="2.45"/><circle cx="322.9" cy="150.6" r="2.45"/><circle cx="325.0" cy="147.8" r="2.45"/><circle cx="325.1" cy="148.1" r="2.45"/><circle cx="325.1" cy="148.8" r="2.45"/><circle cx="325.5" cy="149.6" r="2.45"/><circle cx="325.9" cy="147.8" r="2.45"/><circle cx="326.1" cy="148.8" r="2.45"/><circle cx="326.1" cy="148.3" r="2.45"/><circle cx="326.3" cy="147.4" r="2.45"/><circle cx="326.6" cy="147.7" r="2.45"/><circle cx="326.7" cy="147.6" r="2.45"/><circle cx="327.1" cy="146.5" r="2.45"/><circle cx="327.3" cy="149.5" r="2.45"/><circle cx="328.0" cy="145.8" r="2.45"/><circle cx="107.9" cy="144.9" r="2.45"/><circle cx="107.9" cy="149.6" r="2.45"/><circle cx="108.0" cy="171.0" r="2.45"/><circle cx="135.3" cy="137.2" r="2.45"/><circle cx="137.5" cy="138.0" r="2.45"/></g>
<rect x="407.4" y="15.4" width="268.0" height="200.7" fill="none" stroke="#5c5c5c" stroke-width="0.9"/>
<path d="M474.4 216.1v-2.7M474.4 15.4v2.7M541.4 216.1v-2.7M541.4 15.4v2.7M608.4 216.1v-2.7M608.4 15.4v2.7M407.4 171.5h2.7M675.4 171.5h-2.7M407.4 126.9h2.7M675.4 126.9h-2.7M407.4 82.3h2.7M675.4 82.3h-2.7M407.4 37.7h2.7M675.4 37.7h-2.7" stroke="#858585" stroke-width="0.9" fill="none"/>
<g font-size="13.2" fill="#1a1a1a" text-anchor="middle">
<text x="407.6" y="235.5">20</text>
<text x="474.6" y="235.5">25</text>
<text x="541.6" y="235.5">30</text>
<text x="608.6" y="235.5">35</text>
<text x="675.6" y="235.5">40</text>
</g>
<g font-size="13.2" fill="#1a1a1a" text-anchor="end">
<text x="402.7" y="221.0">0.0</text>
<text x="402.7" y="176.4">2.0</text>
<text x="402.7" y="131.8">4.0</text>
<text x="402.7" y="87.2">6.0</text>
<text x="402.7" y="42.6">8.0</text>
</g>
<g fill="none" stroke="#1a00ff" stroke-width="1.9"><circle cx="435.3" cy="166.2" r="2.45"/><circle cx="435.5" cy="164.9" r="2.45"/><circle cx="435.6" cy="164.1" r="2.45"/><circle cx="435.6" cy="166.3" r="2.45"/><circle cx="435.6" cy="165.4" r="2.45"/><circle cx="435.7" cy="167.0" r="2.45"/><circle cx="435.7" cy="163.8" r="2.45"/><circle cx="436.1" cy="163.3" r="2.45"/><circle cx="436.2" cy="163.9" r="2.45"/><circle cx="436.5" cy="161.8" r="2.45"/><circle cx="436.8" cy="160.0" r="2.45"/><circle cx="437.0" cy="159.7" r="2.45"/><circle cx="438.0" cy="158.9" r="2.45"/><circle cx="439.4" cy="157.0" r="2.45"/><circle cx="439.5" cy="156.2" r="2.45"/><circle cx="439.7" cy="157.4" r="2.45"/><circle cx="439.7" cy="157.3" r="2.45"/><circle cx="440.0" cy="155.8" r="2.45"/><circle cx="440.0" cy="155.3" r="2.45"/><circle cx="440.4" cy="154.3" r="2.45"/><circle cx="440.9" cy="154.4" r="2.45"/><circle cx="441.4" cy="153.7" r="2.45"/><circle cx="441.5" cy="152.3" r="2.45"/><circle cx="442.1" cy="151.8" r="2.45"/><circle cx="442.1" cy="150.6" r="2.45"/><circle cx="442.4" cy="148.3" r="2.45"/><circle cx="442.7" cy="148.3" r="2.45"/><circle cx="443.5" cy="149.8" r="2.45"/><circle cx="444.0" cy="148.6" r="2.45"/><circle cx="444.3" cy="150.1" r="2.45"/><circle cx="444.4" cy="147.3" r="2.45"/><circle cx="444.9" cy="148.1" r="2.45"/><circle cx="444.9" cy="148.7" r="2.45"/><circle cx="445.1" cy="148.0" r="2.45"/><circle cx="445.4" cy="144.8" r="2.45"/><circle cx="445.6" cy="145.3" r="2.45"/><circle cx="445.7" cy="145.6" r="2.45"/><circle cx="445.9" cy="143.5" r="2.45"/><circle cx="446.0" cy="145.8" r="2.45"/><circle cx="446.3" cy="146.3" r="2.45"/><circle cx="446.4" cy="143.5" r="2.45"/><circle cx="447.5" cy="146.2" r="2.45"/><circle cx="447.6" cy="141.8" r="2.45"/><circle cx="447.8" cy="141.7" r="2.45"/><circle cx="448.8" cy="139.9" r="2.45"/><circle cx="449.2" cy="138.5" r="2.45"/><circle cx="449.2" cy="140.6" r="2.45"/><circle cx="449.8" cy="139.0" r="2.45"/><circle cx="450.5" cy="141.5" r="2.45"/><circle cx="450.6" cy="139.4" r="2.45"/><circle cx="450.9" cy="139.0" r="2.45"/><circle cx="451.2" cy="137.3" r="2.45"/><circle cx="452.2" cy="134.3" r="2.45"/><circle cx="452.3" cy="136.8" r="2.45"/><circle cx="452.3" cy="135.3" r="2.45"/><circle cx="452.4" cy="138.8" r="2.45"/><circle cx="452.8" cy="136.5" r="2.45"/><circle cx="452.9" cy="139.9" r="2.45"/><circle cx="453.2" cy="137.6" r="2.45"/><circle cx="454.8" cy="135.5" r="2.45"/><circle cx="455.1" cy="133.5" r="2.45"/><circle cx="455.3" cy="133.1" r="2.45"/><circle cx="455.7" cy="133.2" r="2.45"/><circle cx="455.9" cy="133.2" r="2.45"/><circle cx="456.1" cy="129.4" r="2.45"/><circle cx="456.3" cy="131.5" r="2.45"/><circle cx="456.4" cy="135.6" r="2.45"/><circle cx="456.6" cy="129.7" r="2.45"/><circle cx="457.2" cy="128.4" r="2.45"/><circle cx="457.3" cy="127.3" r="2.45"/><circle cx="457.3" cy="125.6" r="2.45"/><circle cx="457.7" cy="130.9" r="2.45"/><circle cx="458.2" cy="127.8" r="2.45"/><circle cx="458.4" cy="128.1" r="2.45"/><circle cx="458.7" cy="131.3" r="2.45"/><circle cx="459.1" cy="132.3" r="2.45"/><circle cx="459.6" cy="124.4" r="2.45"/><circle cx="460.4" cy="128.3" r="2.45"/><circle cx="460.5" cy="127.3" r="2.45"/><circle cx="460.9" cy="126.5" r="2.45"/><circle cx="461.3" cy="126.5" r="2.45"/><circle cx="461.9" cy="124.9" r="2.45"/><circle cx="462.0" cy="128.6" r="2.45"/><circle cx="462.2" cy="126.1" r="2.45"/><circle cx="462.5" cy="125.3" r="2.45"/><circle cx="462.5" cy="127.4" r="2.45"/><circle cx="463.3" cy="125.7" r="2.45"/><circle cx="463.4" cy="124.6" r="2.45"/><circle cx="463.9" cy="123.6" r="2.45"/><circle cx="466.0" cy="125.2" r="2.45"/><circle cx="466.3" cy="121.7" r="2.45"/><circle cx="466.8" cy="119.7" r="2.45"/><circle cx="467.0" cy="117.4" r="2.45"/><circle cx="467.0" cy="118.7" r="2.45"/><circle cx="467.3" cy="116.5" r="2.45"/><circle cx="467.6" cy="119.4" r="2.45"/><circle cx="467.7" cy="119.7" r="2.45"/><circle cx="468.8" cy="111.9" r="2.45"/><circle cx="469.0" cy="117.5" r="2.45"/><circle cx="469.3" cy="118.8" r="2.45"/><circle cx="470.5" cy="115.8" r="2.45"/><circle cx="470.7" cy="112.2" r="2.45"/><circle cx="471.3" cy="117.9" r="2.45"/><circle cx="473.2" cy="109.8" r="2.45"/><circle cx="473.4" cy="108.0" r="2.45"/><circle cx="473.8" cy="108.1" r="2.45"/><circle cx="473.9" cy="111.3" r="2.45"/><circle cx="475.2" cy="113.3" r="2.45"/><circle cx="475.3" cy="113.9" r="2.45"/><circle cx="475.8" cy="110.5" r="2.45"/><circle cx="476.6" cy="105.5" r="2.45"/><circle cx="476.8" cy="107.1" r="2.45"/><circle cx="477.1" cy="106.1" r="2.45"/><circle cx="477.1" cy="108.4" r="2.45"/><circle cx="477.9" cy="102.6" r="2.45"/><circle cx="478.1" cy="108.6" r="2.45"/><circle cx="478.4" cy="110.1" r="2.45"/><circle cx="478.6" cy="107.4" r="2.45"/><circle cx="480.8" cy="108.8" r="2.45"/><circle cx="480.9" cy="104.2" r="2.45"/><circle cx="481.1" cy="102.5" r="2.45"/><circle cx="484.7" cy="103.0" r="2.45"/><circle cx="484.8" cy="108.9" r="2.45"/><circle cx="485.1" cy="108.1" r="2.45"/><circle cx="485.6" cy="102.3" r="2.45"/><circle cx="486.0" cy="107.4" r="2.45"/><circle cx="487.6" cy="100.6" r="2.45"/><circle cx="487.8" cy="106.7" r="2.45"/><circle cx="487.9" cy="103.1" r="2.45"/><circle cx="488.8" cy="99.7" r="2.45"/><circle cx="490.1" cy="104.1" r="2.45"/><circle cx="490.3" cy="98.7" r="2.45"/><circle cx="490.5" cy="98.1" r="2.45"/><circle cx="490.8" cy="96.2" r="2.45"/><circle cx="490.9" cy="102.1" r="2.45"/><circle cx="492.0" cy="100.3" r="2.45"/><circle cx="492.4" cy="99.8" r="2.45"/><circle cx="493.2" cy="97.6" r="2.45"/><circle cx="493.5" cy="103.6" r="2.45"/><circle cx="493.5" cy="97.1" r="2.45"/><circle cx="493.7" cy="95.8" r="2.45"/><circle cx="494.0" cy="102.2" r="2.45"/><circle cx="494.9" cy="101.6" r="2.45"/><circle cx="495.3" cy="97.4" r="2.45"/><circle cx="495.5" cy="89.8" r="2.45"/><circle cx="495.9" cy="93.6" r="2.45"/><circle cx="495.9" cy="97.8" r="2.45"/><circle cx="496.2" cy="95.6" r="2.45"/><circle cx="496.2" cy="101.0" r="2.45"/><circle cx="497.6" cy="90.5" r="2.45"/><circle cx="497.8" cy="97.8" r="2.45"/><circle cx="498.3" cy="93.2" r="2.45"/><circle cx="499.4" cy="100.2" r="2.45"/><circle cx="500.1" cy="95.0" r="2.45"/><circle cx="500.4" cy="98.9" r="2.45"/><circle cx="500.8" cy="92.7" r="2.45"/><circle cx="500.8" cy="89.9" r="2.45"/><circle cx="501.0" cy="90.9" r="2.45"/><circle cx="501.5" cy="92.4" r="2.45"/><circle cx="502.1" cy="90.4" r="2.45"/><circle cx="504.0" cy="96.4" r="2.45"/><circle cx="505.0" cy="95.7" r="2.45"/><circle cx="505.4" cy="91.4" r="2.45"/><circle cx="505.4" cy="86.7" r="2.45"/><circle cx="505.8" cy="89.5" r="2.45"/><circle cx="506.6" cy="86.7" r="2.45"/><circle cx="507.4" cy="93.7" r="2.45"/><circle cx="507.5" cy="89.5" r="2.45"/><circle cx="508.3" cy="89.7" r="2.45"/><circle cx="508.8" cy="86.4" r="2.45"/><circle cx="508.8" cy="80.6" r="2.45"/><circle cx="510.0" cy="85.1" r="2.45"/><circle cx="510.8" cy="84.1" r="2.45"/><circle cx="511.5" cy="89.7" r="2.45"/><circle cx="512.0" cy="88.7" r="2.45"/><circle cx="513.2" cy="84.9" r="2.45"/><circle cx="513.4" cy="86.3" r="2.45"/><circle cx="513.7" cy="93.0" r="2.45"/><circle cx="514.0" cy="83.5" r="2.45"/><circle cx="514.3" cy="83.1" r="2.45"/><circle cx="514.4" cy="85.5" r="2.45"/><circle cx="514.4" cy="83.8" r="2.45"/><circle cx="515.0" cy="83.8" r="2.45"/><circle cx="515.1" cy="87.2" r="2.45"/><circle cx="515.7" cy="90.7" r="2.45"/><circle cx="516.5" cy="76.8" r="2.45"/><circle cx="516.8" cy="82.9" r="2.45"/><circle cx="516.9" cy="83.0" r="2.45"/><circle cx="517.2" cy="82.3" r="2.45"/><circle cx="517.4" cy="81.8" r="2.45"/><circle cx="518.4" cy="81.0" r="2.45"/><circle cx="518.9" cy="86.0" r="2.45"/><circle cx="519.1" cy="80.7" r="2.45"/><circle cx="519.4" cy="82.0" r="2.45"/><circle cx="519.9" cy="82.7" r="2.45"/><circle cx="520.7" cy="83.3" r="2.45"/><circle cx="522.0" cy="82.2" r="2.45"/><circle cx="522.4" cy="86.4" r="2.45"/><circle cx="522.4" cy="82.7" r="2.45"/><circle cx="522.4" cy="83.3" r="2.45"/><circle cx="522.9" cy="82.3" r="2.45"/><circle cx="523.3" cy="78.5" r="2.45"/><circle cx="523.8" cy="78.9" r="2.45"/><circle cx="523.9" cy="78.0" r="2.45"/><circle cx="524.3" cy="82.3" r="2.45"/><circle cx="524.5" cy="79.0" r="2.45"/><circle cx="524.9" cy="77.6" r="2.45"/><circle cx="525.1" cy="82.3" r="2.45"/><circle cx="525.7" cy="83.4" r="2.45"/><circle cx="527.7" cy="75.5" r="2.45"/><circle cx="528.3" cy="88.3" r="2.45"/><circle cx="529.1" cy="82.0" r="2.45"/><circle cx="530.0" cy="80.9" r="2.45"/><circle cx="530.0" cy="85.2" r="2.45"/><circle cx="530.4" cy="81.2" r="2.45"/><circle cx="531.1" cy="77.9" r="2.45"/><circle cx="531.9" cy="87.5" r="2.45"/><circle cx="532.0" cy="75.3" r="2.45"/><circle cx="532.5" cy="78.5" r="2.45"/><circle cx="533.0" cy="81.6" r="2.45"/><circle cx="533.8" cy="74.4" r="2.45"/><circle cx="534.0" cy="77.9" r="2.45"/><circle cx="534.6" cy="79.7" r="2.45"/><circle cx="535.5" cy="87.3" r="2.45"/><circle cx="536.3" cy="75.2" r="2.45"/><circle cx="536.9" cy="78.3" r="2.45"/><circle cx="537.2" cy="80.9" r="2.45"/><circle cx="537.6" cy="78.7" r="2.45"/><circle cx="538.1" cy="73.9" r="2.45"/><circle cx="538.1" cy="79.8" r="2.45"/><circle cx="538.7" cy="78.6" r="2.45"/><circle cx="538.9" cy="79.8" r="2.45"/><circle cx="539.4" cy="82.3" r="2.45"/><circle cx="540.0" cy="81.8" r="2.45"/><circle cx="541.0" cy="79.5" r="2.45"/><circle cx="541.0" cy="79.2" r="2.45"/><circle cx="541.5" cy="74.0" r="2.45"/><circle cx="541.9" cy="77.6" r="2.45"/><circle cx="543.5" cy="78.7" r="2.45"/><circle cx="543.5" cy="76.4" r="2.45"/><circle cx="545.2" cy="77.6" r="2.45"/><circle cx="545.4" cy="74.2" r="2.45"/><circle cx="545.5" cy="82.8" r="2.45"/><circle cx="546.3" cy="84.8" r="2.45"/><circle cx="546.9" cy="75.3" r="2.45"/><circle cx="547.1" cy="78.2" r="2.45"/><circle cx="547.2" cy="75.9" r="2.45"/><circle cx="547.3" cy="81.3" r="2.45"/><circle cx="548.0" cy="78.4" r="2.45"/><circle cx="548.3" cy="77.2" r="2.45"/><circle cx="548.9" cy="76.2" r="2.45"/><circle cx="549.2" cy="77.5" r="2.45"/><circle cx="549.5" cy="73.5" r="2.45"/><circle cx="550.9" cy="79.5" r="2.45"/><circle cx="551.9" cy="74.0" r="2.45"/><circle cx="552.0" cy="78.5" r="2.45"/><circle cx="552.2" cy="76.9" r="2.45"/><circle cx="552.2" cy="80.3" r="2.45"/><circle cx="552.5" cy="76.2" r="2.45"/><circle cx="553.3" cy="79.3" r="2.45"/><circle cx="554.0" cy="71.9" r="2.45"/><circle cx="554.8" cy="77.1" r="2.45"/><circle cx="555.3" cy="74.1" r="2.45"/><circle cx="555.6" cy="75.6" r="2.45"/><circle cx="557.4" cy="75.4" r="2.45"/><circle cx="557.7" cy="78.5" r="2.45"/><circle cx="558.3" cy="68.0" r="2.45"/><circle cx="558.4" cy="76.4" r="2.45"/><circle cx="558.7" cy="69.9" r="2.45"/><circle cx="559.1" cy="79.5" r="2.45"/><circle cx="559.3" cy="68.1" r="2.45"/><circle cx="560.4" cy="71.2" r="2.45"/><circle cx="561.1" cy="68.6" r="2.45"/><circle cx="561.1" cy="80.3" r="2.45"/><circle cx="562.6" cy="69.7" r="2.45"/><circle cx="563.0" cy="74.7" r="2.45"/><circle cx="563.2" cy="72.4" r="2.45"/><circle cx="564.2" cy="68.2" r="2.45"/><circle cx="564.5" cy="73.4" r="2.45"/><circle cx="565.0" cy="77.0" r="2.45"/><circle cx="565.0" cy="74.0" r="2.45"/><circle cx="565.8" cy="78.1" r="2.45"/><circle cx="565.9" cy="73.5" r="2.45"/><circle cx="566.1" cy="74.8" r="2.45"/><circle cx="566.7" cy="73.3" r="2.45"/><circle cx="567.0" cy="75.8" r="2.45"/><circle cx="567.8" cy="81.0" r="2.45"/><circle cx="567.9" cy="75.6" r="2.45"/><circle cx="568.8" cy="75.0" r="2.45"/><circle cx="569.7" cy="72.6" r="2.45"/><circle cx="569.9" cy="72.2" r="2.45"/><circle cx="570.6" cy="80.6" r="2.45"/><circle cx="571.9" cy="73.3" r="2.45"/><circle cx="572.4" cy="74.7" r="2.45"/><circle cx="574.0" cy="78.5" r="2.45"/><circle cx="574.5" cy="77.3" r="2.45"/><circle cx="576.0" cy="84.5" r="2.45"/><circle cx="576.4" cy="69.3" r="2.45"/><circle cx="576.6" cy="78.5" r="2.45"/><circle cx="578.8" cy="78.8" r="2.45"/><circle cx="578.8" cy="72.5" r="2.45"/><circle cx="578.9" cy="74.1" r="2.45"/><circle cx="579.9" cy="78.2" r="2.45"/><circle cx="580.4" cy="82.7" r="2.45"/><circle cx="580.6" cy="74.1" r="2.45"/><circle cx="580.9" cy="72.0" r="2.45"/><circle cx="582.0" cy="81.5" r="2.45"/><circle cx="582.1" cy="83.4" r="2.45"/><circle cx="583.4" cy="77.7" r="2.45"/><circle cx="583.5" cy="71.4" r="2.45"/><circle cx="586.2" cy="84.2" r="2.45"/><circle cx="587.6" cy="78.4" r="2.45"/><circle cx="587.8" cy="82.8" r="2.45"/><circle cx="588.0" cy="78.9" r="2.45"/><circle cx="588.2" cy="77.7" r="2.45"/><circle cx="588.6" cy="77.3" r="2.45"/><circle cx="588.8" cy="83.7" r="2.45"/><circle cx="589.3" cy="83.4" r="2.45"/><circle cx="589.4" cy="71.5" r="2.45"/><circle cx="590.1" cy="75.4" r="2.45"/><circle cx="590.2" cy="84.4" r="2.45"/><circle cx="590.6" cy="77.2" r="2.45"/><circle cx="591.2" cy="74.0" r="2.45"/><circle cx="591.7" cy="78.8" r="2.45"/><circle cx="592.6" cy="78.9" r="2.45"/><circle cx="592.7" cy="79.1" r="2.45"/><circle cx="592.8" cy="77.9" r="2.45"/><circle cx="593.4" cy="78.9" r="2.45"/><circle cx="593.5" cy="78.5" r="2.45"/><circle cx="593.5" cy="81.1" r="2.45"/><circle cx="594.4" cy="78.0" r="2.45"/><circle cx="594.8" cy="79.9" r="2.45"/><circle cx="595.8" cy="80.6" r="2.45"/><circle cx="596.0" cy="85.4" r="2.45"/><circle cx="596.5" cy="82.2" r="2.45"/><circle cx="598.2" cy="80.0" r="2.45"/><circle cx="598.9" cy="82.1" r="2.45"/><circle cx="598.9" cy="81.7" r="2.45"/><circle cx="599.8" cy="84.3" r="2.45"/><circle cx="601.7" cy="83.9" r="2.45"/><circle cx="601.8" cy="88.2" r="2.45"/><circle cx="601.9" cy="86.7" r="2.45"/><circle cx="602.4" cy="82.6" r="2.45"/><circle cx="603.3" cy="81.6" r="2.45"/><circle cx="603.7" cy="85.8" r="2.45"/><circle cx="604.3" cy="84.3" r="2.45"/><circle cx="604.5" cy="82.2" r="2.45"/><circle cx="604.7" cy="77.5" r="2.45"/><circle cx="605.2" cy="76.0" r="2.45"/><circle cx="605.3" cy="82.9" r="2.45"/><circle cx="434.0" cy="206.0" r="2.45"/><circle cx="434.0" cy="185.5" r="2.45"/><circle cx="566.3" cy="55.1" r="2.45"/><circle cx="540.0" cy="63.5" r="2.45"/><circle cx="628.2" cy="73.1" r="2.45"/><circle cx="545.0" cy="89.2" r="2.45"/><circle cx="511.4" cy="93.8" r="2.45"/><circle cx="503.8" cy="79.0" r="2.45"/><circle cx="605.5" cy="77.0" r="2.45"/><circle cx="609.9" cy="81.9" r="2.45"/><circle cx="612.5" cy="84.5" r="2.45"/><circle cx="608.1" cy="86.2" r="2.45"/><circle cx="609.0" cy="89.7" r="2.45"/><circle cx="614.5" cy="80.0" r="2.45"/><circle cx="616.9" cy="77.5" r="2.45"/><circle cx="619.0" cy="83.0" r="2.45"/><circle cx="621.2" cy="78.4" r="2.45"/><circle cx="621.2" cy="82.4" r="2.45"/><circle cx="623.0" cy="86.2" r="2.45"/><circle cx="623.8" cy="89.7" r="2.45"/><circle cx="625.5" cy="84.0" r="2.45"/><circle cx="627.3" cy="88.0" r="2.45"/><circle cx="630.8" cy="82.4" r="2.45"/><circle cx="632.0" cy="87.0" r="2.45"/><circle cx="633.5" cy="86.2" r="2.45"/><circle cx="634.3" cy="90.6" r="2.45"/><circle cx="636.1" cy="83.6" r="2.45"/><circle cx="636.0" cy="84.3" r="2.45"/><circle cx="635.0" cy="87.2" r="2.45"/><circle cx="638.9" cy="89.2" r="2.45"/><circle cx="639.6" cy="86.2" r="2.45"/><circle cx="640.5" cy="89.7" r="2.45"/><circle cx="640.4" cy="86.3" r="2.45"/><circle cx="642.8" cy="87.2" r="2.45"/><circle cx="644.0" cy="86.2" r="2.45"/><circle cx="645.7" cy="93.5" r="2.45"/><circle cx="646.7" cy="89.2" r="2.45"/><circle cx="649.6" cy="92.1" r="2.45"/><circle cx="652.1" cy="90.2" r="2.45"/><circle cx="653.5" cy="95.0" r="2.45"/><circle cx="652.1" cy="100.9" r="2.45"/><circle cx="656.8" cy="92.7" r="2.45"/><circle cx="658.0" cy="95.0" r="2.45"/><circle cx="659.3" cy="100.5" r="2.45"/><circle cx="663.8" cy="98.0" r="2.45"/><circle cx="665.2" cy="96.6" r="2.45"/><circle cx="664.6" cy="89.6" r="2.45"/><circle cx="667.1" cy="85.7" r="2.45"/><circle cx="671.0" cy="80.4" r="2.45"/><circle cx="673.9" cy="83.0" r="2.45"/></g>
<g fill="none" stroke="#000" stroke-width="1.9"><circle cx="498.5" cy="181.2" r="2.45"/><circle cx="495.5" cy="183.1" r="2.45"/><circle cx="480.5" cy="186.6" r="2.45"/><circle cx="473.1" cy="183.9" r="2.45"/><circle cx="500.6" cy="182.2" r="2.45"/><circle cx="484.1" cy="182.4" r="2.45"/><circle cx="499.5" cy="184.4" r="2.45"/><circle cx="485.5" cy="187.3" r="2.45"/><circle cx="485.9" cy="180.3" r="2.45"/><circle cx="486.1" cy="178.2" r="2.45"/><circle cx="459.3" cy="189.3" r="2.45"/><circle cx="464.6" cy="191.3" r="2.45"/><circle cx="457.0" cy="191.9" r="2.45"/><circle cx="498.2" cy="181.9" r="2.45"/><circle cx="501.6" cy="184.7" r="2.45"/><circle cx="481.3" cy="179.9" r="2.45"/><circle cx="460.5" cy="190.1" r="2.45"/><circle cx="459.2" cy="186.1" r="2.45"/><circle cx="473.5" cy="187.0" r="2.45"/><circle cx="470.9" cy="186.7" r="2.45"/><circle cx="462.2" cy="191.3" r="2.45"/><circle cx="457.9" cy="186.1" r="2.45"/><circle cx="483.4" cy="180.5" r="2.45"/><circle cx="490.9" cy="176.2" r="2.45"/><circle cx="456.9" cy="191.3" r="2.45"/><circle cx="467.1" cy="183.6" r="2.45"/><circle cx="466.7" cy="186.5" r="2.45"/><circle cx="478.2" cy="181.6" r="2.45"/><circle cx="481.3" cy="181.8" r="2.45"/><circle cx="471.8" cy="190.1" r="2.45"/><circle cx="494.7" cy="181.0" r="2.45"/><circle cx="470.9" cy="188.5" r="2.45"/><circle cx="466.9" cy="186.9" r="2.45"/><circle cx="489.5" cy="181.1" r="2.45"/><circle cx="493.5" cy="178.6" r="2.45"/><circle cx="495.3" cy="184.7" r="2.45"/><circle cx="461.1" cy="187.3" r="2.45"/><circle cx="462.2" cy="189.5" r="2.45"/><circle cx="474.3" cy="180.3" r="2.45"/><circle cx="500.1" cy="178.0" r="2.45"/><circle cx="482.1" cy="176.7" r="2.45"/><circle cx="482.2" cy="180.0" r="2.45"/><circle cx="467.9" cy="188.9" r="2.45"/><circle cx="501.4" cy="181.6" r="2.45"/><circle cx="461.6" cy="186.3" r="2.45"/><circle cx="479.0" cy="184.8" r="2.45"/><circle cx="484.8" cy="184.8" r="2.45"/><circle cx="491.8" cy="181.2" r="2.45"/><circle cx="492.0" cy="182.6" r="2.45"/><circle cx="470.7" cy="186.8" r="2.45"/><circle cx="465.4" cy="177.4" r="2.45"/><circle cx="500.8" cy="180.1" r="2.45"/><circle cx="478.7" cy="188.4" r="2.45"/><circle cx="465.9" cy="182.7" r="2.45"/><circle cx="459.8" cy="187.1" r="2.45"/><circle cx="491.4" cy="180.6" r="2.45"/><circle cx="493.8" cy="180.7" r="2.45"/><circle cx="479.5" cy="189.3" r="2.45"/><circle cx="470.6" cy="185.4" r="2.45"/><circle cx="484.0" cy="177.4" r="2.45"/><circle cx="500.8" cy="176.6" r="2.45"/><circle cx="480.0" cy="181.9" r="2.45"/><circle cx="490.6" cy="174.9" r="2.45"/><circle cx="495.6" cy="178.0" r="2.45"/><circle cx="489.0" cy="183.5" r="2.45"/><circle cx="475.5" cy="188.7" r="2.45"/><circle cx="461.4" cy="180.0" r="2.45"/><circle cx="485.9" cy="185.1" r="2.45"/><circle cx="492.9" cy="182.7" r="2.45"/><circle cx="499.9" cy="179.6" r="2.45"/><circle cx="460.4" cy="189.7" r="2.45"/><circle cx="458.8" cy="183.0" r="2.45"/><circle cx="482.9" cy="178.9" r="2.45"/><circle cx="492.7" cy="176.8" r="2.45"/><circle cx="457.4" cy="185.9" r="2.45"/><circle cx="481.7" cy="184.9" r="2.45"/><circle cx="465.2" cy="180.4" r="2.45"/><circle cx="501.8" cy="178.4" r="2.45"/><circle cx="469.5" cy="182.7" r="2.45"/><circle cx="457.6" cy="189.9" r="2.45"/><circle cx="490.4" cy="181.2" r="2.45"/><circle cx="466.7" cy="188.1" r="2.45"/><circle cx="472.2" cy="184.4" r="2.45"/><circle cx="459.5" cy="183.5" r="2.45"/><circle cx="468.1" cy="182.5" r="2.45"/><circle cx="459.6" cy="187.8" r="2.45"/><circle cx="464.8" cy="179.6" r="2.45"/><circle cx="480.0" cy="184.3" r="2.45"/><circle cx="466.7" cy="191.4" r="2.45"/><circle cx="484.4" cy="179.2" r="2.45"/><circle cx="496.6" cy="181.4" r="2.45"/><circle cx="479.9" cy="187.4" r="2.45"/><circle cx="455.8" cy="188.5" r="2.45"/><circle cx="499.7" cy="178.4" r="2.45"/><circle cx="462.2" cy="182.3" r="2.45"/><circle cx="468.8" cy="187.0" r="2.45"/><circle cx="477.4" cy="186.8" r="2.45"/><circle cx="482.0" cy="181.7" r="2.45"/><circle cx="468.6" cy="185.7" r="2.45"/><circle cx="473.2" cy="191.0" r="2.45"/><circle cx="482.4" cy="184.5" r="2.45"/><circle cx="474.0" cy="182.2" r="2.45"/><circle cx="466.0" cy="184.9" r="2.45"/><circle cx="471.8" cy="187.0" r="2.45"/><circle cx="470.6" cy="190.3" r="2.45"/><circle cx="466.4" cy="184.2" r="2.45"/><circle cx="481.1" cy="179.7" r="2.45"/><circle cx="476.7" cy="183.2" r="2.45"/><circle cx="471.9" cy="180.7" r="2.45"/><circle cx="486.6" cy="181.5" r="2.45"/><circle cx="491.9" cy="180.6" r="2.45"/><circle cx="483.5" cy="183.0" r="2.45"/><circle cx="468.6" cy="182.0" r="2.45"/><circle cx="498.5" cy="180.4" r="2.45"/><circle cx="458.5" cy="185.4" r="2.45"/><circle cx="491.5" cy="179.6" r="2.45"/><circle cx="472.3" cy="189.0" r="2.45"/><circle cx="471.2" cy="184.8" r="2.45"/><circle cx="493.5" cy="182.5" r="2.45"/><circle cx="483.8" cy="178.9" r="2.45"/><circle cx="500.5" cy="181.0" r="2.45"/><circle cx="495.4" cy="175.9" r="2.45"/><circle cx="458.9" cy="186.6" r="2.45"/><circle cx="476.3" cy="183.2" r="2.45"/><circle cx="489.6" cy="183.0" r="2.45"/><circle cx="457.6" cy="189.8" r="2.45"/><circle cx="478.2" cy="183.7" r="2.45"/><circle cx="501.5" cy="182.0" r="2.45"/><circle cx="464.0" cy="185.8" r="2.45"/><circle cx="458.9" cy="191.1" r="2.45"/><circle cx="466.2" cy="187.5" r="2.45"/><circle cx="468.7" cy="185.2" r="2.45"/><circle cx="466.1" cy="183.0" r="2.45"/><circle cx="472.8" cy="187.8" r="2.45"/><circle cx="493.0" cy="180.8" r="2.45"/><circle cx="477.0" cy="187.4" r="2.45"/><circle cx="480.5" cy="186.1" r="2.45"/><circle cx="458.6" cy="191.2" r="2.45"/><circle cx="457.0" cy="187.5" r="2.45"/><circle cx="499.2" cy="178.7" r="2.45"/><circle cx="468.9" cy="185.3" r="2.45"/><circle cx="499.0" cy="180.6" r="2.45"/><circle cx="468.3" cy="189.1" r="2.45"/><circle cx="483.0" cy="180.1" r="2.45"/><circle cx="484.1" cy="180.7" r="2.45"/><circle cx="457.9" cy="191.3" r="2.45"/><circle cx="457.2" cy="186.8" r="2.45"/><circle cx="473.3" cy="185.7" r="2.45"/><circle cx="459.4" cy="197.4" r="2.45"/><circle cx="466.5" cy="190.1" r="2.45"/><circle cx="462.2" cy="189.5" r="2.45"/><circle cx="467.3" cy="185.9" r="2.45"/><circle cx="474.0" cy="183.5" r="2.45"/><circle cx="467.2" cy="186.9" r="2.45"/><circle cx="468.3" cy="185.5" r="2.45"/><circle cx="475.4" cy="187.0" r="2.45"/><circle cx="485.2" cy="180.3" r="2.45"/><circle cx="456.2" cy="190.1" r="2.45"/><circle cx="501.7" cy="180.1" r="2.45"/><circle cx="472.8" cy="187.7" r="2.45"/><circle cx="497.7" cy="183.8" r="2.45"/><circle cx="455.1" cy="191.7" r="2.45"/><circle cx="456.7" cy="184.6" r="2.45"/><circle cx="458.3" cy="185.5" r="2.45"/><circle cx="497.2" cy="176.3" r="2.45"/><circle cx="471.9" cy="183.9" r="2.45"/><circle cx="493.7" cy="183.4" r="2.45"/><circle cx="485.8" cy="182.5" r="2.45"/><circle cx="457.8" cy="187.1" r="2.45"/><circle cx="469.5" cy="186.6" r="2.45"/><circle cx="468.1" cy="180.7" r="2.45"/><circle cx="473.8" cy="182.1" r="2.45"/><circle cx="488.9" cy="178.7" r="2.45"/><circle cx="457.7" cy="184.3" r="2.45"/><circle cx="497.9" cy="183.7" r="2.45"/><circle cx="475.0" cy="182.2" r="2.45"/><circle cx="469.7" cy="192.8" r="2.45"/><circle cx="486.0" cy="184.6" r="2.45"/><circle cx="465.7" cy="183.6" r="2.45"/><circle cx="486.7" cy="181.4" r="2.45"/><circle cx="472.1" cy="184.6" r="2.45"/><circle cx="475.0" cy="186.2" r="2.45"/><circle cx="461.9" cy="188.4" r="2.45"/><circle cx="462.5" cy="185.8" r="2.45"/><circle cx="494.5" cy="183.4" r="2.45"/><circle cx="479.9" cy="189.0" r="2.45"/><circle cx="472.4" cy="187.7" r="2.45"/><circle cx="490.0" cy="182.5" r="2.45"/><circle cx="497.2" cy="181.1" r="2.45"/><circle cx="460.6" cy="188.0" r="2.45"/><circle cx="501.8" cy="177.0" r="2.45"/><circle cx="455.3" cy="192.5" r="2.45"/><circle cx="481.7" cy="182.9" r="2.45"/><circle cx="465.1" cy="181.9" r="2.45"/><circle cx="464.6" cy="192.5" r="2.45"/><circle cx="475.8" cy="183.0" r="2.45"/><circle cx="481.2" cy="178.5" r="2.45"/><circle cx="473.1" cy="187.6" r="2.45"/><circle cx="486.8" cy="173.9" r="2.45"/><circle cx="499.2" cy="178.5" r="2.45"/><circle cx="461.0" cy="177.6" r="2.45"/><circle cx="464.0" cy="181.8" r="2.45"/><circle cx="481.5" cy="182.1" r="2.45"/><circle cx="471.8" cy="187.6" r="2.45"/><circle cx="467.4" cy="188.8" r="2.45"/><circle cx="476.3" cy="188.3" r="2.45"/><circle cx="485.9" cy="184.3" r="2.45"/><circle cx="497.0" cy="182.3" r="2.45"/><circle cx="498.7" cy="180.2" r="2.45"/><circle cx="492.3" cy="184.0" r="2.45"/><circle cx="468.8" cy="183.8" r="2.45"/><circle cx="495.7" cy="180.2" r="2.45"/><circle cx="486.6" cy="187.4" r="2.45"/><circle cx="461.3" cy="189.1" r="2.45"/><circle cx="499.4" cy="181.4" r="2.45"/><circle cx="464.4" cy="187.6" r="2.45"/><circle cx="485.2" cy="183.6" r="2.45"/><circle cx="485.8" cy="178.3" r="2.45"/><circle cx="496.9" cy="181.1" r="2.45"/><circle cx="484.4" cy="178.7" r="2.45"/><circle cx="501.0" cy="180.9" r="2.45"/><circle cx="456.8" cy="187.6" r="2.45"/><circle cx="456.0" cy="194.3" r="2.45"/><circle cx="462.2" cy="188.8" r="2.45"/><circle cx="479.8" cy="181.2" r="2.45"/><circle cx="472.5" cy="186.6" r="2.45"/><circle cx="457.6" cy="185.3" r="2.45"/><circle cx="462.4" cy="185.9" r="2.45"/><circle cx="480.0" cy="184.9" r="2.45"/><circle cx="471.4" cy="187.3" r="2.45"/><circle cx="489.4" cy="177.6" r="2.45"/><circle cx="474.5" cy="184.6" r="2.45"/><circle cx="495.3" cy="182.4" r="2.45"/><circle cx="489.1" cy="182.7" r="2.45"/><circle cx="475.8" cy="189.7" r="2.45"/><circle cx="469.4" cy="178.1" r="2.45"/><circle cx="462.9" cy="188.5" r="2.45"/><circle cx="466.4" cy="182.6" r="2.45"/><circle cx="469.2" cy="186.6" r="2.45"/><circle cx="469.5" cy="187.1" r="2.45"/><circle cx="461.5" cy="190.2" r="2.45"/><circle cx="474.8" cy="184.6" r="2.45"/><circle cx="458.7" cy="189.2" r="2.45"/><circle cx="494.9" cy="179.2" r="2.45"/><circle cx="478.6" cy="180.2" r="2.45"/><circle cx="458.1" cy="190.6" r="2.45"/><circle cx="468.0" cy="184.7" r="2.45"/><circle cx="464.7" cy="175.2" r="2.45"/><circle cx="460.5" cy="181.8" r="2.45"/><circle cx="475.2" cy="186.4" r="2.45"/><circle cx="461.6" cy="191.5" r="2.45"/><circle cx="460.3" cy="190.5" r="2.45"/><circle cx="486.2" cy="183.4" r="2.45"/><circle cx="472.7" cy="180.8" r="2.45"/><circle cx="484.7" cy="181.0" r="2.45"/><circle cx="474.7" cy="188.1" r="2.45"/><circle cx="476.3" cy="187.0" r="2.45"/><circle cx="467.2" cy="186.4" r="2.45"/><circle cx="472.6" cy="185.9" r="2.45"/><circle cx="475.2" cy="192.0" r="2.45"/><circle cx="468.6" cy="190.4" r="2.45"/><circle cx="492.6" cy="181.5" r="2.45"/><circle cx="464.3" cy="179.1" r="2.45"/><circle cx="463.2" cy="192.5" r="2.45"/><circle cx="468.7" cy="183.5" r="2.45"/><circle cx="490.5" cy="184.3" r="2.45"/><circle cx="493.7" cy="185.3" r="2.45"/><circle cx="479.3" cy="179.1" r="2.45"/><circle cx="469.5" cy="186.7" r="2.45"/><circle cx="483.5" cy="180.1" r="2.45"/><circle cx="492.6" cy="182.7" r="2.45"/><circle cx="464.2" cy="186.2" r="2.45"/><circle cx="484.4" cy="186.4" r="2.45"/><circle cx="486.6" cy="182.9" r="2.45"/><circle cx="470.9" cy="186.2" r="2.45"/><circle cx="460.1" cy="191.0" r="2.45"/><circle cx="481.4" cy="181.8" r="2.45"/><circle cx="462.8" cy="184.4" r="2.45"/><circle cx="469.8" cy="193.4" r="2.45"/><circle cx="478.3" cy="180.3" r="2.45"/><circle cx="499.9" cy="179.3" r="2.45"/><circle cx="460.1" cy="187.2" r="2.45"/><circle cx="457.3" cy="186.0" r="2.45"/><circle cx="478.0" cy="178.5" r="2.45"/><circle cx="498.8" cy="182.9" r="2.45"/><circle cx="456.3" cy="187.6" r="2.45"/><circle cx="483.1" cy="179.3" r="2.45"/><circle cx="455.7" cy="189.2" r="2.45"/><circle cx="478.6" cy="181.4" r="2.45"/><circle cx="459.0" cy="184.4" r="2.45"/><circle cx="484.0" cy="182.0" r="2.45"/><circle cx="469.5" cy="193.7" r="2.45"/><circle cx="483.8" cy="183.5" r="2.45"/><circle cx="464.9" cy="187.5" r="2.45"/><circle cx="457.4" cy="184.5" r="2.45"/><circle cx="461.6" cy="186.0" r="2.45"/><circle cx="465.5" cy="180.7" r="2.45"/><circle cx="460.9" cy="189.3" r="2.45"/><circle cx="462.3" cy="185.1" r="2.45"/><circle cx="478.3" cy="184.6" r="2.45"/><circle cx="488.1" cy="181.4" r="2.45"/><circle cx="488.4" cy="179.4" r="2.45"/><circle cx="488.5" cy="178.3" r="2.45"/><circle cx="488.5" cy="182.9" r="2.45"/><circle cx="489.6" cy="178.8" r="2.45"/><circle cx="490.1" cy="179.3" r="2.45"/><circle cx="490.3" cy="181.1" r="2.45"/><circle cx="490.3" cy="180.3" r="2.45"/><circle cx="490.6" cy="182.6" r="2.45"/><circle cx="490.7" cy="183.9" r="2.45"/><circle cx="490.8" cy="182.3" r="2.45"/><circle cx="490.8" cy="182.2" r="2.45"/><circle cx="490.8" cy="181.8" r="2.45"/><circle cx="491.0" cy="183.5" r="2.45"/><circle cx="491.5" cy="177.9" r="2.45"/><circle cx="491.7" cy="182.5" r="2.45"/><circle cx="492.3" cy="178.4" r="2.45"/><circle cx="493.2" cy="179.2" r="2.45"/><circle cx="493.3" cy="181.6" r="2.45"/><circle cx="493.9" cy="180.8" r="2.45"/><circle cx="494.0" cy="183.4" r="2.45"/><circle cx="494.7" cy="183.6" r="2.45"/><circle cx="496.1" cy="177.1" r="2.45"/><circle cx="496.3" cy="181.2" r="2.45"/><circle cx="496.4" cy="184.9" r="2.45"/><circle cx="496.5" cy="183.9" r="2.45"/><circle cx="496.6" cy="184.0" r="2.45"/><circle cx="496.8" cy="181.4" r="2.45"/><circle cx="496.9" cy="178.6" r="2.45"/><circle cx="497.3" cy="179.2" r="2.45"/><circle cx="497.3" cy="182.5" r="2.45"/><circle cx="497.7" cy="182.9" r="2.45"/><circle cx="498.0" cy="179.8" r="2.45"/><circle cx="499.2" cy="180.5" r="2.45"/><circle cx="499.5" cy="181.4" r="2.45"/><circle cx="499.6" cy="177.8" r="2.45"/><circle cx="499.7" cy="180.3" r="2.45"/><circle cx="500.0" cy="183.7" r="2.45"/><circle cx="500.2" cy="184.7" r="2.45"/><circle cx="500.6" cy="180.5" r="2.45"/><circle cx="500.9" cy="183.9" r="2.45"/><circle cx="501.1" cy="179.6" r="2.45"/><circle cx="501.3" cy="179.1" r="2.45"/><circle cx="502.4" cy="176.2" r="2.45"/><circle cx="502.8" cy="181.7" r="2.45"/><circle cx="503.7" cy="178.9" r="2.45"/><circle cx="504.0" cy="183.6" r="2.45"/><circle cx="504.1" cy="180.0" r="2.45"/><circle cx="505.5" cy="179.1" r="2.45"/><circle cx="506.7" cy="174.7" r="2.45"/><circle cx="506.7" cy="180.5" r="2.45"/><circle cx="506.9" cy="177.2" r="2.45"/><circle cx="507.7" cy="177.1" r="2.45"/><circle cx="508.0" cy="173.3" r="2.45"/><circle cx="508.2" cy="178.8" r="2.45"/><circle cx="508.4" cy="178.8" r="2.45"/><circle cx="508.6" cy="175.9" r="2.45"/><circle cx="509.2" cy="176.9" r="2.45"/><circle cx="510.1" cy="177.2" r="2.45"/><circle cx="511.0" cy="178.2" r="2.45"/><circle cx="512.2" cy="176.8" r="2.45"/><circle cx="512.6" cy="179.7" r="2.45"/><circle cx="513.5" cy="176.5" r="2.45"/><circle cx="513.5" cy="175.9" r="2.45"/><circle cx="513.6" cy="175.5" r="2.45"/><circle cx="513.6" cy="170.2" r="2.45"/><circle cx="514.2" cy="174.7" r="2.45"/><circle cx="514.3" cy="179.0" r="2.45"/><circle cx="515.4" cy="178.0" r="2.45"/><circle cx="515.6" cy="176.2" r="2.45"/><circle cx="515.7" cy="178.3" r="2.45"/><circle cx="515.9" cy="171.7" r="2.45"/><circle cx="516.4" cy="177.4" r="2.45"/><circle cx="516.5" cy="178.9" r="2.45"/><circle cx="516.8" cy="179.3" r="2.45"/><circle cx="517.7" cy="176.9" r="2.45"/><circle cx="517.9" cy="179.9" r="2.45"/><circle cx="518.0" cy="183.8" r="2.45"/><circle cx="518.4" cy="177.6" r="2.45"/><circle cx="520.7" cy="179.2" r="2.45"/><circle cx="520.8" cy="175.2" r="2.45"/><circle cx="521.7" cy="174.1" r="2.45"/><circle cx="523.0" cy="177.8" r="2.45"/><circle cx="524.2" cy="176.2" r="2.45"/><circle cx="524.4" cy="176.4" r="2.45"/><circle cx="524.8" cy="174.8" r="2.45"/><circle cx="524.8" cy="175.3" r="2.45"/><circle cx="525.1" cy="177.1" r="2.45"/><circle cx="525.3" cy="178.5" r="2.45"/><circle cx="525.5" cy="175.2" r="2.45"/><circle cx="525.6" cy="172.7" r="2.45"/><circle cx="525.6" cy="177.7" r="2.45"/><circle cx="526.2" cy="176.3" r="2.45"/><circle cx="526.4" cy="176.4" r="2.45"/><circle cx="526.4" cy="175.6" r="2.45"/><circle cx="527.3" cy="179.1" r="2.45"/><circle cx="527.3" cy="175.3" r="2.45"/><circle cx="527.6" cy="176.0" r="2.45"/><circle cx="527.8" cy="171.9" r="2.45"/><circle cx="527.8" cy="173.4" r="2.45"/><circle cx="529.1" cy="174.1" r="2.45"/><circle cx="529.4" cy="175.3" r="2.45"/><circle cx="529.6" cy="175.9" r="2.45"/><circle cx="529.9" cy="173.2" r="2.45"/><circle cx="530.0" cy="178.4" r="2.45"/><circle cx="531.6" cy="174.2" r="2.45"/><circle cx="531.7" cy="174.7" r="2.45"/><circle cx="531.7" cy="176.4" r="2.45"/><circle cx="532.0" cy="172.4" r="2.45"/><circle cx="532.6" cy="177.3" r="2.45"/><circle cx="532.9" cy="177.4" r="2.45"/><circle cx="533.2" cy="176.0" r="2.45"/><circle cx="534.2" cy="182.1" r="2.45"/><circle cx="534.4" cy="176.8" r="2.45"/><circle cx="534.5" cy="177.1" r="2.45"/><circle cx="535.0" cy="173.9" r="2.45"/><circle cx="535.1" cy="173.9" r="2.45"/><circle cx="535.2" cy="175.6" r="2.45"/><circle cx="535.9" cy="176.1" r="2.45"/><circle cx="536.4" cy="175.9" r="2.45"/><circle cx="536.4" cy="178.8" r="2.45"/><circle cx="536.5" cy="172.8" r="2.45"/><circle cx="536.5" cy="174.7" r="2.45"/><circle cx="537.5" cy="173.4" r="2.45"/><circle cx="537.6" cy="180.3" r="2.45"/><circle cx="537.9" cy="174.7" r="2.45"/><circle cx="538.1" cy="175.5" r="2.45"/><circle cx="538.3" cy="174.5" r="2.45"/><circle cx="538.6" cy="178.8" r="2.45"/><circle cx="539.4" cy="175.4" r="2.45"/><circle cx="539.6" cy="176.6" r="2.45"/><circle cx="539.7" cy="172.6" r="2.45"/><circle cx="539.8" cy="178.0" r="2.45"/><circle cx="540.6" cy="176.6" r="2.45"/><circle cx="540.6" cy="176.9" r="2.45"/><circle cx="540.9" cy="178.0" r="2.45"/><circle cx="540.9" cy="175.5" r="2.45"/><circle cx="541.6" cy="175.5" r="2.45"/><circle cx="541.6" cy="177.0" r="2.45"/><circle cx="542.4" cy="177.0" r="2.45"/><circle cx="543.0" cy="175.1" r="2.45"/><circle cx="543.3" cy="175.9" r="2.45"/><circle cx="543.3" cy="175.0" r="2.45"/><circle cx="543.6" cy="177.1" r="2.45"/><circle cx="543.7" cy="178.5" r="2.45"/><circle cx="543.7" cy="175.9" r="2.45"/><circle cx="543.9" cy="179.1" r="2.45"/><circle cx="544.6" cy="173.4" r="2.45"/><circle cx="544.7" cy="175.3" r="2.45"/><circle cx="544.8" cy="180.8" r="2.45"/><circle cx="546.3" cy="174.9" r="2.45"/><circle cx="546.5" cy="173.5" r="2.45"/><circle cx="547.5" cy="178.6" r="2.45"/><circle cx="547.9" cy="177.8" r="2.45"/><circle cx="548.1" cy="174.3" r="2.45"/><circle cx="548.6" cy="178.4" r="2.45"/><circle cx="549.0" cy="174.5" r="2.45"/><circle cx="549.3" cy="172.3" r="2.45"/><circle cx="549.6" cy="175.9" r="2.45"/><circle cx="549.7" cy="175.3" r="2.45"/><circle cx="549.7" cy="173.0" r="2.45"/><circle cx="550.1" cy="175.5" r="2.45"/><circle cx="550.6" cy="174.3" r="2.45"/><circle cx="551.7" cy="175.9" r="2.45"/><circle cx="552.2" cy="175.6" r="2.45"/><circle cx="552.3" cy="176.8" r="2.45"/><circle cx="553.8" cy="174.5" r="2.45"/><circle cx="554.2" cy="173.0" r="2.45"/><circle cx="554.8" cy="173.0" r="2.45"/><circle cx="555.4" cy="174.8" r="2.45"/><circle cx="555.7" cy="177.7" r="2.45"/><circle cx="555.8" cy="176.6" r="2.45"/><circle cx="555.9" cy="173.3" r="2.45"/><circle cx="556.1" cy="176.8" r="2.45"/><circle cx="557.3" cy="172.0" r="2.45"/><circle cx="557.4" cy="177.0" r="2.45"/><circle cx="557.7" cy="174.8" r="2.45"/><circle cx="558.1" cy="176.8" r="2.45"/><circle cx="558.4" cy="176.6" r="2.45"/><circle cx="559.6" cy="175.5" r="2.45"/><circle cx="560.3" cy="177.0" r="2.45"/><circle cx="560.5" cy="174.4" r="2.45"/><circle cx="560.7" cy="175.9" r="2.45"/><circle cx="560.9" cy="178.0" r="2.45"/><circle cx="563.5" cy="182.9" r="2.45"/><circle cx="563.7" cy="177.5" r="2.45"/><circle cx="564.4" cy="176.4" r="2.45"/><circle cx="565.2" cy="174.4" r="2.45"/><circle cx="566.0" cy="177.6" r="2.45"/><circle cx="566.9" cy="172.8" r="2.45"/><circle cx="567.4" cy="174.1" r="2.45"/><circle cx="568.2" cy="175.7" r="2.45"/><circle cx="569.8" cy="171.4" r="2.45"/><circle cx="569.9" cy="177.4" r="2.45"/><circle cx="570.1" cy="177.8" r="2.45"/><circle cx="570.2" cy="173.9" r="2.45"/><circle cx="570.5" cy="173.9" r="2.45"/><circle cx="570.5" cy="172.6" r="2.45"/><circle cx="570.9" cy="172.5" r="2.45"/><circle cx="571.7" cy="176.1" r="2.45"/><circle cx="571.9" cy="176.0" r="2.45"/><circle cx="573.2" cy="175.9" r="2.45"/><circle cx="573.6" cy="175.9" r="2.45"/><circle cx="573.9" cy="174.7" r="2.45"/><circle cx="573.9" cy="176.6" r="2.45"/><circle cx="574.8" cy="171.8" r="2.45"/><circle cx="575.5" cy="176.3" r="2.45"/><circle cx="575.9" cy="180.5" r="2.45"/><circle cx="576.6" cy="178.9" r="2.45"/><circle cx="576.8" cy="176.0" r="2.45"/><circle cx="576.9" cy="176.2" r="2.45"/><circle cx="577.3" cy="179.1" r="2.45"/><circle cx="577.9" cy="179.9" r="2.45"/><circle cx="578.2" cy="174.6" r="2.45"/><circle cx="578.6" cy="176.4" r="2.45"/><circle cx="579.3" cy="177.4" r="2.45"/><circle cx="579.5" cy="179.0" r="2.45"/><circle cx="579.6" cy="175.6" r="2.45"/><circle cx="580.3" cy="177.9" r="2.45"/><circle cx="580.6" cy="176.3" r="2.45"/><circle cx="581.2" cy="180.5" r="2.45"/><circle cx="581.2" cy="177.4" r="2.45"/><circle cx="581.3" cy="176.2" r="2.45"/><circle cx="581.6" cy="176.0" r="2.45"/><circle cx="581.7" cy="178.2" r="2.45"/><circle cx="581.7" cy="177.6" r="2.45"/><circle cx="581.7" cy="173.4" r="2.45"/><circle cx="583.3" cy="176.4" r="2.45"/><circle cx="583.6" cy="173.6" r="2.45"/><circle cx="583.8" cy="174.4" r="2.45"/><circle cx="584.1" cy="172.0" r="2.45"/><circle cx="584.7" cy="171.7" r="2.45"/><circle cx="586.7" cy="174.0" r="2.45"/><circle cx="586.8" cy="173.5" r="2.45"/><circle cx="587.1" cy="176.5" r="2.45"/><circle cx="587.4" cy="177.3" r="2.45"/><circle cx="587.5" cy="174.4" r="2.45"/><circle cx="587.6" cy="172.0" r="2.45"/><circle cx="588.7" cy="177.5" r="2.45"/><circle cx="588.7" cy="169.7" r="2.45"/><circle cx="589.0" cy="172.2" r="2.45"/><circle cx="589.0" cy="176.6" r="2.45"/><circle cx="589.1" cy="176.5" r="2.45"/><circle cx="589.8" cy="177.2" r="2.45"/><circle cx="590.2" cy="175.4" r="2.45"/><circle cx="590.3" cy="172.2" r="2.45"/><circle cx="590.3" cy="174.3" r="2.45"/><circle cx="590.7" cy="177.4" r="2.45"/><circle cx="591.1" cy="174.8" r="2.45"/><circle cx="591.2" cy="174.9" r="2.45"/><circle cx="591.7" cy="174.0" r="2.45"/><circle cx="592.1" cy="174.4" r="2.45"/><circle cx="592.3" cy="177.8" r="2.45"/><circle cx="592.4" cy="177.2" r="2.45"/><circle cx="593.1" cy="174.7" r="2.45"/><circle cx="594.5" cy="175.1" r="2.45"/><circle cx="594.6" cy="176.0" r="2.45"/><circle cx="594.7" cy="177.8" r="2.45"/><circle cx="595.1" cy="175.0" r="2.45"/><circle cx="595.3" cy="176.4" r="2.45"/><circle cx="595.3" cy="173.5" r="2.45"/><circle cx="595.9" cy="174.9" r="2.45"/><circle cx="596.0" cy="177.6" r="2.45"/><circle cx="596.5" cy="179.3" r="2.45"/><circle cx="597.2" cy="173.6" r="2.45"/><circle cx="597.4" cy="175.6" r="2.45"/><circle cx="597.5" cy="179.0" r="2.45"/><circle cx="597.6" cy="175.7" r="2.45"/><circle cx="597.7" cy="176.0" r="2.45"/><circle cx="597.8" cy="177.7" r="2.45"/><circle cx="598.3" cy="177.1" r="2.45"/><circle cx="598.4" cy="178.5" r="2.45"/><circle cx="599.0" cy="178.0" r="2.45"/><circle cx="599.4" cy="175.7" r="2.45"/><circle cx="599.6" cy="176.3" r="2.45"/><circle cx="600.5" cy="176.5" r="2.45"/><circle cx="600.7" cy="174.4" r="2.45"/><circle cx="601.3" cy="175.0" r="2.45"/><circle cx="601.9" cy="178.1" r="2.45"/><circle cx="602.3" cy="174.0" r="2.45"/><circle cx="602.6" cy="178.2" r="2.45"/><circle cx="603.1" cy="177.1" r="2.45"/><circle cx="604.8" cy="176.3" r="2.45"/><circle cx="604.9" cy="177.6" r="2.45"/><circle cx="605.0" cy="178.0" r="2.45"/><circle cx="605.2" cy="178.7" r="2.45"/><circle cx="607.0" cy="176.2" r="2.45"/><circle cx="608.9" cy="176.0" r="2.45"/><circle cx="609.1" cy="176.2" r="2.45"/><circle cx="610.8" cy="179.4" r="2.45"/><circle cx="611.0" cy="177.8" r="2.45"/><circle cx="611.5" cy="174.7" r="2.45"/><circle cx="612.3" cy="175.6" r="2.45"/><circle cx="612.5" cy="175.0" r="2.45"/><circle cx="612.6" cy="176.1" r="2.45"/><circle cx="614.0" cy="176.4" r="2.45"/><circle cx="614.0" cy="179.7" r="2.45"/><circle cx="614.2" cy="173.1" r="2.45"/><circle cx="616.0" cy="178.0" r="2.45"/><circle cx="616.5" cy="177.2" r="2.45"/><circle cx="616.8" cy="174.7" r="2.45"/><circle cx="617.1" cy="176.5" r="2.45"/><circle cx="617.2" cy="176.0" r="2.45"/><circle cx="617.6" cy="177.0" r="2.45"/><circle cx="617.7" cy="178.6" r="2.45"/><circle cx="617.9" cy="172.9" r="2.45"/><circle cx="619.0" cy="179.7" r="2.45"/><circle cx="619.1" cy="177.0" r="2.45"/><circle cx="619.8" cy="180.3" r="2.45"/><circle cx="619.8" cy="179.0" r="2.45"/><circle cx="620.4" cy="181.4" r="2.45"/><circle cx="621.0" cy="179.8" r="2.45"/><circle cx="623.1" cy="180.3" r="2.45"/><circle cx="623.7" cy="178.7" r="2.45"/><circle cx="623.8" cy="177.2" r="2.45"/><circle cx="624.2" cy="180.3" r="2.45"/><circle cx="624.2" cy="180.4" r="2.45"/><circle cx="625.2" cy="181.7" r="2.45"/><circle cx="625.3" cy="175.1" r="2.45"/><circle cx="625.4" cy="177.7" r="2.45"/><circle cx="625.7" cy="179.9" r="2.45"/><circle cx="625.9" cy="174.6" r="2.45"/><circle cx="628.2" cy="176.9" r="2.45"/><circle cx="628.8" cy="182.8" r="2.45"/><circle cx="629.0" cy="179.3" r="2.45"/><circle cx="631.4" cy="175.3" r="2.45"/><circle cx="632.2" cy="179.0" r="2.45"/><circle cx="632.6" cy="180.0" r="2.45"/><circle cx="633.1" cy="178.2" r="2.45"/><circle cx="635.9" cy="178.5" r="2.45"/><circle cx="636.0" cy="178.3" r="2.45"/><circle cx="636.7" cy="176.9" r="2.45"/><circle cx="637.7" cy="177.9" r="2.45"/><circle cx="638.7" cy="180.0" r="2.45"/><circle cx="639.4" cy="179.3" r="2.45"/><circle cx="639.6" cy="181.8" r="2.45"/><circle cx="639.8" cy="178.7" r="2.45"/><circle cx="640.7" cy="176.2" r="2.45"/><circle cx="641.5" cy="179.0" r="2.45"/><circle cx="642.6" cy="180.0" r="2.45"/><circle cx="643.1" cy="180.2" r="2.45"/><circle cx="643.9" cy="179.9" r="2.45"/><circle cx="644.4" cy="177.9" r="2.45"/><circle cx="645.1" cy="181.9" r="2.45"/><circle cx="645.6" cy="178.5" r="2.45"/><circle cx="645.8" cy="181.0" r="2.45"/><circle cx="646.1" cy="179.7" r="2.45"/><circle cx="646.6" cy="178.6" r="2.45"/><circle cx="647.9" cy="182.1" r="2.45"/><circle cx="648.1" cy="177.5" r="2.45"/><circle cx="648.3" cy="179.3" r="2.45"/><circle cx="648.6" cy="181.0" r="2.45"/><circle cx="648.7" cy="180.0" r="2.45"/><circle cx="649.7" cy="182.1" r="2.45"/><circle cx="650.4" cy="180.5" r="2.45"/><circle cx="650.5" cy="180.1" r="2.45"/><circle cx="651.0" cy="183.3" r="2.45"/><circle cx="651.9" cy="180.5" r="2.45"/><circle cx="652.0" cy="180.6" r="2.45"/><circle cx="652.2" cy="178.6" r="2.45"/><circle cx="652.6" cy="179.9" r="2.45"/><circle cx="653.1" cy="182.0" r="2.45"/><circle cx="653.3" cy="181.4" r="2.45"/><circle cx="653.6" cy="180.7" r="2.45"/><circle cx="653.9" cy="179.9" r="2.45"/><circle cx="654.4" cy="181.5" r="2.45"/><circle cx="654.8" cy="178.8" r="2.45"/><circle cx="655.6" cy="180.0" r="2.45"/><circle cx="655.6" cy="180.2" r="2.45"/><circle cx="655.7" cy="179.7" r="2.45"/><circle cx="655.8" cy="180.9" r="2.45"/><circle cx="656.3" cy="179.4" r="2.45"/><circle cx="656.5" cy="179.2" r="2.45"/><circle cx="656.7" cy="182.6" r="2.45"/><circle cx="656.9" cy="181.5" r="2.45"/><circle cx="657.7" cy="182.9" r="2.45"/><circle cx="658.0" cy="180.8" r="2.45"/><circle cx="658.2" cy="181.8" r="2.45"/><circle cx="658.9" cy="181.6" r="2.45"/><circle cx="659.9" cy="182.2" r="2.45"/><circle cx="660.1" cy="183.4" r="2.45"/><circle cx="660.2" cy="180.8" r="2.45"/><circle cx="662.2" cy="181.9" r="2.45"/><circle cx="663.0" cy="181.9" r="2.45"/><circle cx="663.1" cy="179.8" r="2.45"/><circle cx="664.5" cy="181.1" r="2.45"/><circle cx="664.6" cy="182.4" r="2.45"/><circle cx="665.0" cy="183.1" r="2.45"/><circle cx="665.1" cy="182.0" r="2.45"/><circle cx="665.2" cy="183.6" r="2.45"/><circle cx="665.6" cy="184.5" r="2.45"/><circle cx="666.3" cy="182.1" r="2.45"/><circle cx="666.8" cy="183.7" r="2.45"/><circle cx="669.6" cy="183.4" r="2.45"/><circle cx="671.1" cy="181.9" r="2.45"/><circle cx="672.2" cy="180.4" r="2.45"/><circle cx="672.2" cy="182.3" r="2.45"/><circle cx="672.4" cy="181.0" r="2.45"/><circle cx="673.0" cy="180.7" r="2.45"/><circle cx="675.2" cy="180.6" r="2.45"/><circle cx="454.6" cy="176.0" r="2.45"/><circle cx="454.6" cy="203.8" r="2.45"/><circle cx="483.5" cy="168.8" r="2.45"/><circle cx="564.7" cy="167.0" r="2.45"/></g>
<circle cx="110.1" cy="33.4" r="2.45" fill="none" stroke="#1a00ff" stroke-width="1.9"/>
<text x="124.7" y="40.4" font-size="13.3" fill="#1a1a1a">Wind 1.0 m s</text><text transform="translate(202.4,34) scale(0.84,1)" font-size="10.6" fill="#1a1a1a">-1</text>
<circle cx="228.8" cy="33.4" r="2.45" fill="none" stroke="#000" stroke-width="1.9"/>
<text x="243.2" y="38.6" font-size="13.3" fill="#1a1a1a">No wind</text>
<text x="326.6" y="213.1" font-size="14.9" fill="#1a1a1a" text-anchor="end">10 Rotors</text>
<text x="194.9" y="252.3" font-size="13.4" font-weight="bold" fill="#1a1a1a" text-anchor="middle">Temperature (°C)</text>
<circle cx="457.1" cy="33.4" r="2.45" fill="none" stroke="#1a00ff" stroke-width="1.9"/>
<text x="471.7" y="40.4" font-size="13.3" fill="#1a1a1a">Wind 1.0 m s</text><text transform="translate(549.4,34) scale(0.84,1)" font-size="10.6" fill="#1a1a1a">-1</text>
<circle cx="575.8" cy="33.4" r="2.45" fill="none" stroke="#000" stroke-width="1.9"/>
<text x="590.2" y="38.6" font-size="13.3" fill="#1a1a1a">No wind</text>
<text x="673.6" y="213.1" font-size="14.9" fill="#1a1a1a" text-anchor="end">10 Rotors</text>
<text x="541.9" y="252.3" font-size="13.4" font-weight="bold" fill="#1a1a1a" text-anchor="middle">Temperature (°C)</text>
<text x="0.7" y="18.0" font-size="20.6" fill="#000">(a)</text>
<text x="351.9" y="17.7" font-size="22.3" fill="#000">(b)</text>
<text transform="translate(26.6,116.1) rotate(-90)" font-size="13.3" font-weight="bold" fill="#1a1a1a" text-anchor="middle">Angular speed (rpm)</text>
<text transform="translate(378.2,115.8) rotate(-90)" font-size="13.6" font-weight="bold" fill="#1a1a1a" text-anchor="middle">Power (mW)</text>
<defs><linearGradient id="gb" x1="0" x2="0" y1="0" y2="1"><stop offset="0" stop-color="#909090"/><stop offset="0.5" stop-color="#686868"/><stop offset="1" stop-color="#424242"/></linearGradient><linearGradient id="gb2" x1="0" x2="1" y1="0" y2="0"><stop offset="0" stop-color="#000" stop-opacity="0.22"/><stop offset="0.5" stop-color="#fff" stop-opacity="0.08"/><stop offset="1" stop-color="#000" stop-opacity="0.22"/></linearGradient><linearGradient id="gr" x1="0" x2="1" y1="0" y2="0"><stop offset="0" stop-color="#4a4a4a"/><stop offset="0.5" stop-color="#d2d2d2"/><stop offset="1" stop-color="#4a4a4a"/></linearGradient><linearGradient id="gt" x1="0" x2="1" y1="0" y2="0"><stop offset="0" stop-color="#6e6e6e"/><stop offset="0.5" stop-color="#bdbdbd"/><stop offset="1" stop-color="#6e6e6e"/></linearGradient><linearGradient id="gs" x1="0" x2="0" y1="0" y2="1"><stop offset="0" stop-color="#aab2c2"/><stop offset="0.45" stop-color="#e4e9f4"/><stop offset="0.75" stop-color="#8d96aa"/><stop offset="1" stop-color="#5c6478"/></linearGradient><linearGradient id="gd" x1="0" x2="0" y1="0" y2="1"><stop offset="0" stop-color="#8c8c8c"/><stop offset="1" stop-color="#363636"/></linearGradient></defs>
<g>
<rect x="535.9" y="148.2" width="35.7" height="11.5" fill="#777"/>
<rect x="537.3" y="149.7" width="32.9" height="4.6" fill="#dce5ee"/>
<rect x="535.9" y="154.3" width="35.7" height="5.4" fill="url(#gd)"/>
<rect x="601.8" y="148.2" width="35.7" height="11.5" fill="#777"/>
<rect x="603.2" y="149.7" width="32.9" height="4.6" fill="#dce5ee"/>
<rect x="601.8" y="154.3" width="35.7" height="5.4" fill="url(#gd)"/>
<rect x="540.5" y="126.8" width="5.2" height="7.8" rx="0.5" fill="#eceef2" stroke="#b0b0b0" stroke-width="0.3"/>
<rect x="546.3" y="126.8" width="5.2" height="7.8" rx="0.5" fill="#eceef2" stroke="#b0b0b0" stroke-width="0.3"/>
<rect x="551.8" y="126.8" width="5.2" height="7.8" rx="0.5" fill="#eceef2" stroke="#b0b0b0" stroke-width="0.3"/>
<rect x="557.5" y="126.8" width="5.2" height="7.8" rx="0.5" fill="#eceef2" stroke="#b0b0b0" stroke-width="0.3"/>
<rect x="563.2" y="126.8" width="5.2" height="7.8" rx="0.5" fill="#eceef2" stroke="#b0b0b0" stroke-width="0.3"/>
<rect x="604.7" y="126.8" width="5.2" height="7.8" rx="0.5" fill="#eceef2" stroke="#b0b0b0" stroke-width="0.3"/>
<rect x="610.5" y="126.8" width="5.2" height="7.8" rx="0.5" fill="#eceef2" stroke="#b0b0b0" stroke-width="0.3"/>
<rect x="616.2" y="126.8" width="5.2" height="7.8" rx="0.5" fill="#eceef2" stroke="#b0b0b0" stroke-width="0.3"/>
<rect x="621.9" y="126.8" width="5.2" height="7.8" rx="0.5" fill="#eceef2" stroke="#b0b0b0" stroke-width="0.3"/>
<rect x="627.7" y="126.8" width="5.2" height="7.8" rx="0.5" fill="#eceef2" stroke="#b0b0b0" stroke-width="0.3"/>
<rect x="531" y="128.6" width="109" height="3.7" fill="url(#gs)" opacity="0.9"/>
<rect x="530.6" y="127.6" width="3.6" height="5.6" rx="0.8" fill="#aeb3bf" stroke="#70757f" stroke-width="0.3"/>
<rect x="636.6" y="127.6" width="3.6" height="5.6" rx="0.8" fill="#aeb3bf" stroke="#70757f" stroke-width="0.3"/>
<path d="M543.1 115.0 L544.2 118.6 V144.4 L543.1 147.8 L542.0 144.4 V118.6 Z" fill="url(#gr)" stroke="#454545" stroke-width="0.55"/>
<path d="M548.9 115.0 L550.0 118.6 V144.4 L548.9 147.8 L547.8 144.4 V118.6 Z" fill="url(#gr)" stroke="#454545" stroke-width="0.55"/>
<path d="M554.4 115.0 L555.5 118.6 V144.4 L554.4 147.8 L553.3 144.4 V118.6 Z" fill="url(#gr)" stroke="#454545" stroke-width="0.55"/>
<path d="M560.1 115.0 L561.2 118.6 V144.4 L560.1 147.8 L559.0 144.4 V118.6 Z" fill="url(#gr)" stroke="#454545" stroke-width="0.55"/>
<path d="M565.8 115.0 L566.9 118.6 V144.4 L565.8 147.8 L564.6999999999999 144.4 V118.6 Z" fill="url(#gr)" stroke="#454545" stroke-width="0.55"/>
<path d="M607.3 115.0 L608.4 118.6 V144.4 L607.3 147.8 L606.1999999999999 144.4 V118.6 Z" fill="url(#gr)" stroke="#454545" stroke-width="0.55"/>
<path d="M613.1 115.0 L614.2 118.6 V144.4 L613.1 147.8 L612.0 144.4 V118.6 Z" fill="url(#gr)" stroke="#454545" stroke-width="0.55"/>
<path d="M618.8 115.0 L619.9 118.6 V144.4 L618.8 147.8 L617.6999999999999 144.4 V118.6 Z" fill="url(#gr)" stroke="#454545" stroke-width="0.55"/>
<path d="M624.5 115.0 L625.6 118.6 V144.4 L624.5 147.8 L623.4 144.4 V118.6 Z" fill="url(#gr)" stroke="#454545" stroke-width="0.55"/>
<path d="M630.3 115.0 L631.4 118.6 V144.4 L630.3 147.8 L629.1999999999999 144.4 V118.6 Z" fill="url(#gr)" stroke="#454545" stroke-width="0.55"/>
<rect x="567.6" y="126.3" width="4.2" height="7.6" rx="0.8" fill="#c4c7cf" stroke="#666" stroke-width="0.3"/>
<rect x="601.6" y="126.3" width="4.2" height="7.6" rx="0.8" fill="#c4c7cf" stroke="#666" stroke-width="0.3"/>
<path d="M575.3 132.5 L582.7 106.8 H590.7 L597.0 132.5 Z" fill="url(#gt)" stroke="#5e5e5e" stroke-width="0.4"/>
<path d="M583.4 131 L585.2 108.5 H588 L589.8 131 Z" fill="#e0e0e0" stroke="#777" stroke-width="0.3"/>
<path d="M579.5 131 L583.3 112 M593.5 131 L589.9 112" stroke="#d8d8d8" stroke-width="1.1" fill="none"/>
<rect x="585.3" y="112" width="2.6" height="9" fill="#858585"/>
<rect x="584.6" y="123.5" width="4" height="4" fill="#6a6a6a"/>
<rect x="573" y="129.3" width="26.4" height="3.2" fill="#b4b4b4" stroke="#6c6c6c" stroke-width="0.3"/><rect x="571.6" y="126.8" width="2.6" height="5.7" fill="#d5d5d5" stroke="#777" stroke-width="0.3"/><rect x="597.6" y="126.8" width="2.6" height="5.7" fill="#d5d5d5" stroke="#777" stroke-width="0.3"/>
<rect x="571.2" y="132.2" width="30.9" height="27.4" fill="url(#gb)"/><rect x="571.2" y="132.2" width="30.9" height="27.4" fill="url(#gb2)"/>
<path d="M545.9 112.3 c2.4 -2.0 5.4 -1.5 8 0.3 s5.4 2.5 8.4 1.5" stroke="#2a1cf2" stroke-width="1.25" fill="none" stroke-linecap="round"/>
<path d="M546.6 115.3 c2.4 -2.0 5.4 -1.5 8 0.3 s5.4 2.5 8.4 1.5" stroke="#2a1cf2" stroke-width="1.25" fill="none" stroke-linecap="round"/>
<path d="M547.4 118.3 c2.4 -2.0 5.4 -1.5 8 0.3 s5.4 2.5 8.4 1.5" stroke="#2a1cf2" stroke-width="1.25" fill="none" stroke-linecap="round"/>
<path d="M548.1 121.3 c2.4 -2.0 5.4 -1.5 8 0.3 s5.4 2.5 8.4 1.5" stroke="#2a1cf2" stroke-width="1.25" fill="none" stroke-linecap="round"/>
<path d="M609.6 112.3 c2.4 -2.0 5.4 -1.5 8 0.3 s5.4 2.5 8.4 1.5" stroke="#2a1cf2" stroke-width="1.25" fill="none" stroke-linecap="round"/>
<path d="M610.4 115.3 c2.4 -2.0 5.4 -1.5 8 0.3 s5.4 2.5 8.4 1.5" stroke="#2a1cf2" stroke-width="1.25" fill="none" stroke-linecap="round"/>
<path d="M611.1 118.3 c2.4 -2.0 5.4 -1.5 8 0.3 s5.4 2.5 8.4 1.5" stroke="#2a1cf2" stroke-width="1.25" fill="none" stroke-linecap="round"/>
<path d="M611.9 121.3 c2.4 -2.0 5.4 -1.5 8 0.3 s5.4 2.5 8.4 1.5" stroke="#2a1cf2" stroke-width="1.25" fill="none" stroke-linecap="round"/>
<text x="549.1" y="110.6" font-size="10.6" font-weight="bold" fill="#111">V<tspan font-size="5.4" dy="0.9" dx="0.2">∞</tspan></text>
<path d="M580 101.4 h2.3 l1 -2.6 l1.9 5.2 l1.9 -5.2 l1.9 5.2 l1.9 -5.2 l1 2.6 h2" stroke="#111" stroke-width="1.15" fill="none" stroke-linejoin="miter"/>
<text x="594.6" y="106.5" font-size="10.2" font-weight="bold" fill="#111">R = 2.2 kΩ</text>
</g>
</svg></body></html>
